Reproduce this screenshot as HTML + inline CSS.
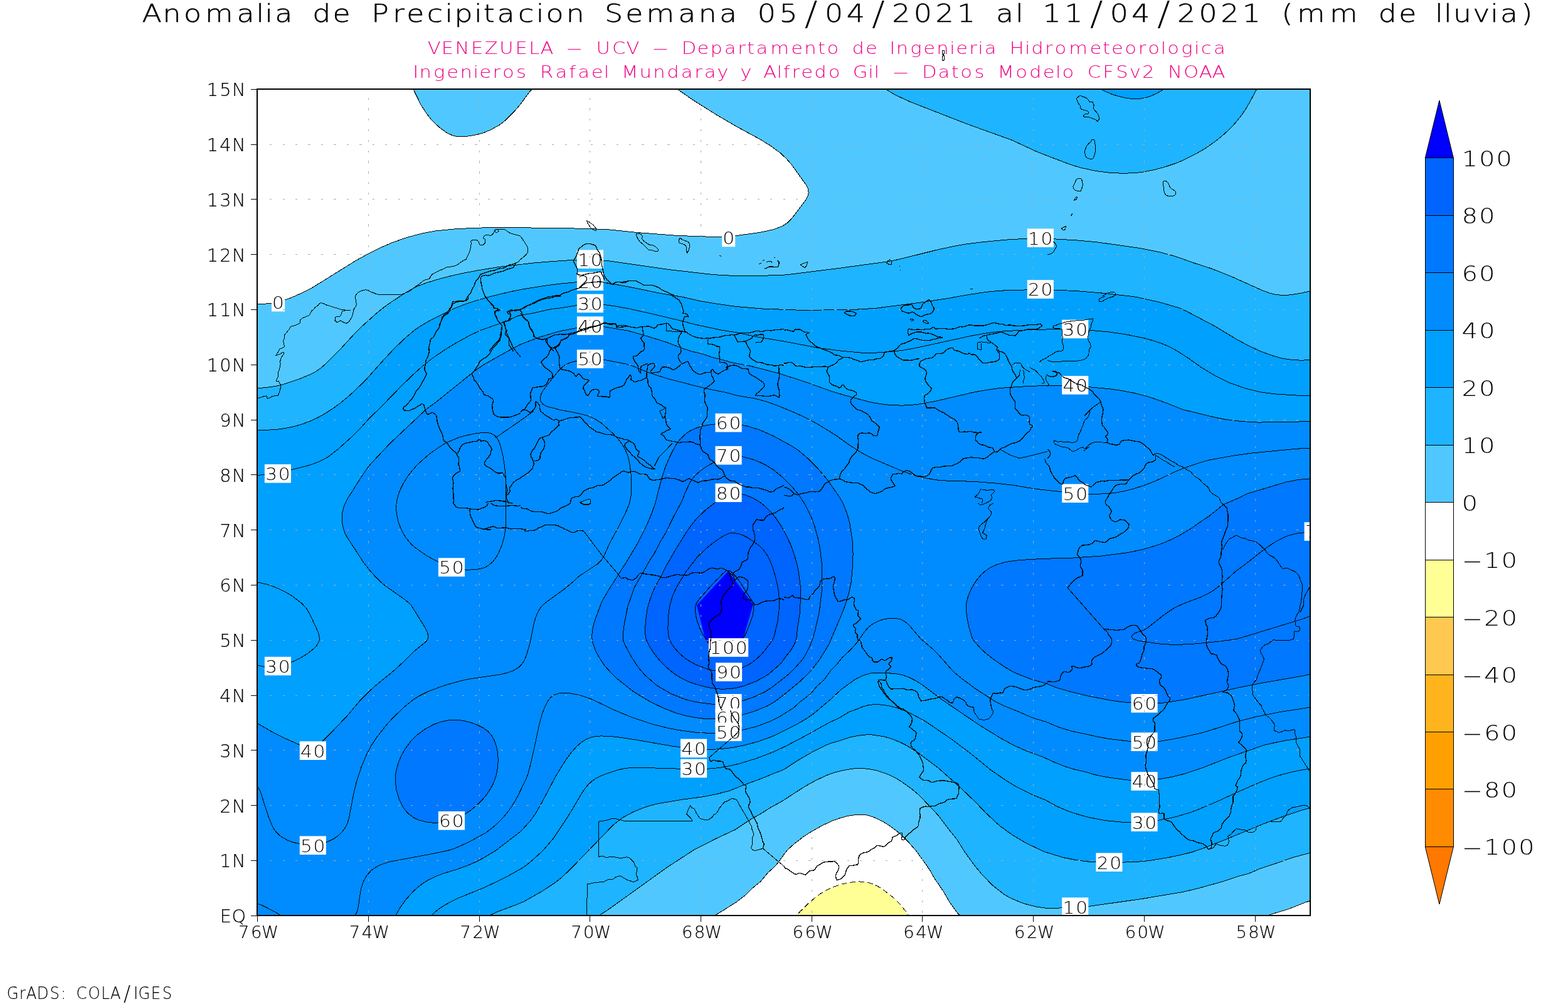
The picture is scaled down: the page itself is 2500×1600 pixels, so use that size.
<!DOCTYPE html>
<html lang="es"><head><meta charset="utf-8"><title>Anomalia de Precipitacion</title>
<style>html,body{margin:0;padding:0;background:#fff}body{width:2500px;height:1600px}svg{display:block}text{font-family:'DejaVu Sans','Liberation Sans',sans-serif;font-weight:200;white-space:pre}</style></head>
<body>
<svg width="2500" height="1600" viewBox="0 0 2500 1600">
<rect width="2500" height="1600" fill="#fff"/>
<defs><clipPath id="fr"><rect x="410.0" y="142.0" width="1679.0" height="1317.0"/></clipPath></defs>
<text xml:space="preserve" transform="translate(0,34.90) scale(1.1721,1)" font-size="39.09" stroke="#000" stroke-width="0.50"><tspan x="193.2 221.4 249.9 278.9 322.1 348.6 360.4 373.8 405.4 425.0 452.6 483.5 505.3 534.1 553.0 580.8 605.3 618.2 645.1 657.6 676.2 704.7 729.2 742.6 770.2 802.2 822.5 850.9 879.3 922.5 950.2 978.6 1010.2 1030.5 1060.0">Anomalia de Precipitacion Semana 05</tspan><tspan x="1094.5" dy="4.61" font-size="52.70" stroke="none">/</tspan><tspan x="1122.0 1151.5" dy="-4.61">04</tspan><tspan x="1186.0" dy="4.61" font-size="52.70" stroke="none">/</tspan><tspan x="1213.4 1242.9 1272.4 1301.9 1334.7 1354.8 1381.2 1398.1 1418.5 1448.0" dy="-4.61">2021 al 11</tspan><tspan x="1482.5" dy="4.61" font-size="52.70" stroke="none">/</tspan><tspan x="1509.9 1539.4" dy="-4.61">04</tspan><tspan x="1574.0" dy="4.61" font-size="52.70" stroke="none">/</tspan><tspan x="1601.4 1630.9 1660.4 1689.9 1722.7 1743.4 1764.4 1808.7 1855.4 1875.1 1902.7 1933.6 1952.1 1963.9 1976.9 2003.5 2027.3 2040.7 2069.4" dy="-4.61">2021 (mm de lluvia)</tspan></text>
<text xml:space="preserve" transform="translate(0,86.20) scale(1.1538,1)" font-size="26.47" fill="#f00082"><tspan x="590.8 610.0 628.9 650.9 669.7 690.1 711.9 730.8 746.7 768.5">VENEZUELA </tspan><tspan x="781.4" textLength="24.6" lengthAdjust="spacingAndGlyphs">-</tspan><tspan x="810.4 823.9 845.9 865.5 887.4"> UCV </tspan><tspan x="900.3" textLength="24.6" lengthAdjust="spacingAndGlyphs">-</tspan><tspan x="929.3 941.8 963.3 981.6 1000.8 1019.5 1032.2 1044.8 1064.5 1093.2 1111.4 1130.1 1142.7 1164.1 1177.4 1196.1 1217.0 1229.3 1238.3 1257.7 1276.0 1294.2 1312.4 1321.0 1339.2 1351.4 1360.5 1381.8 1395.1 1416.3 1425.1 1444.0 1457.4 1477.1 1505.8 1523.7 1535.7 1554.3 1572.9 1586.2 1604.1 1613.2 1632.3 1650.1 1659.5 1677.1"> Departamento de Ingenieria Hidrometeorologica</tspan></text>
<text xml:space="preserve" transform="translate(0,124.00) scale(1.1588,1)" font-size="26.47" fill="#f00082"><tspan x="568.0 577.0 596.4 614.7 632.9 651.1 659.6 677.8 691.2 710.3 729.5 743.0 764.1 783.0 795.0 813.5 830.9 842.4 855.2 879.7 898.6 917.6 936.9 955.5 968.9 986.6 1006.2 1018.6 1038.2 1050.3 1068.7 1077.7 1089.4 1102.2 1120.4 1139.7 1161.1 1173.5 1194.6 1202.6 1214.0">Ingenieros Rafael Mundaray y Alfredo Gil </tspan><tspan x="1226.9" textLength="24.6" lengthAdjust="spacingAndGlyphs">-</tspan><tspan x="1256.0 1268.5 1290.5 1308.9 1321.5 1340.7 1359.9 1372.6 1397.4 1416.1 1434.8 1452.3 1461.4 1482.7 1496.2 1517.3 1535.5 1554.0 1571.4 1593.6 1606.9 1628.4 1649.7 1667.7"> Datos Modelo CFSv2 NOAA</tspan></text>
<g clip-path="url(#fr)">
<path d="M655.9 136.0 L854.3 136.0 L845.0 145.4 L829.9 166.0 L819.7 178.0 L806.0 191.7 L797.0 198.7 L782.0 207.1 L770.0 212.0 L761.0 214.4 L752.0 216.1 L743.0 217.4 L734.0 217.8 L728.0 217.4 L722.0 216.1 L713.0 212.0 L701.0 203.4 L689.0 192.2 L680.1 181.0 L671.0 166.7 L656.0 136.1ZM1070.0 136.0 L2096.0 136.0 L2096.0 1433.3 L2081.4 1438.0 L2054.0 1448.8 L2000.5 1465.0 L1535.4 1465.0 L1526.0 1454.2 L1516.3 1441.0 L1510.4 1432.0 L1503.8 1420.0 L1489.4 1399.0 L1480.7 1384.0 L1461.5 1357.0 L1454.0 1347.9 L1442.0 1335.4 L1433.0 1327.1 L1424.0 1320.0 L1412.2 1312.0 L1403.0 1306.9 L1394.0 1302.7 L1385.0 1299.6 L1379.0 1298.5 L1370.0 1298.1 L1358.0 1299.3 L1349.0 1301.0 L1340.0 1303.5 L1325.0 1308.9 L1310.0 1316.0 L1292.0 1326.3 L1281.6 1333.0 L1266.0 1345.0 L1256.1 1354.0 L1251.1 1360.0 L1241.0 1374.3 L1235.3 1381.0 L1225.1 1390.0 L1212.5 1405.0 L1197.7 1417.0 L1189.0 1426.0 L1173.4 1438.0 L1151.0 1452.2 L1128.8 1465.0 L404.0 1465.0 L404.0 484.0 L422.0 484.2 L434.0 483.1 L449.0 479.7 L464.0 474.5 L482.0 466.6 L497.0 459.0 L566.0 416.1 L587.0 404.4 L605.0 395.4 L626.0 386.3 L650.0 378.0 L674.0 371.7 L695.0 367.9 L728.0 364.6 L773.0 362.8 L833.0 362.8 L929.0 364.2 L968.0 365.6 L1016.0 370.5 L1076.0 375.2 L1115.0 376.8 L1145.0 377.4 L1175.0 375.4 L1211.0 370.5 L1232.0 366.0 L1247.0 360.7 L1255.4 355.0 L1261.4 349.0 L1266.4 343.0 L1284.4 319.0 L1287.7 313.0 L1289.2 307.0 L1288.3 301.0 L1285.5 295.0 L1261.8 262.0 L1253.9 253.0 L1244.4 244.0 L1228.1 232.0 L1211.0 221.5 L1175.0 202.0 L1144.1 184.0 L1106.0 160.1 L1073.0 137.8Z" fill="#50c8ff" fill-rule="evenodd"/>
<path d="M1402.6 136.0 L2008.0 136.0 L2002.0 145.0 L1992.6 163.0 L1985.5 175.0 L1979.0 184.3 L1970.0 195.6 L1961.0 205.2 L1948.1 217.0 L1936.8 226.0 L1922.0 236.3 L1907.0 245.1 L1886.0 255.6 L1874.0 260.5 L1859.0 265.5 L1841.0 270.5 L1823.0 274.0 L1808.0 275.8 L1790.0 276.2 L1772.0 275.6 L1748.0 272.6 L1724.0 267.6 L1706.0 262.1 L1655.0 242.6 L1613.0 223.2 L1541.0 197.3 L1451.0 162.2 L1427.0 151.1 L1403.0 136.3ZM1604.8 382.0 L1628.0 380.5 L1658.0 379.6 L1715.0 382.8 L1754.0 386.5 L1817.0 395.4 L1838.0 399.3 L1868.0 406.6 L1880.0 410.4 L1907.0 420.2 L1928.0 426.7 L1964.0 440.9 L2012.0 462.5 L2021.0 465.9 L2030.0 468.6 L2042.0 470.4 L2054.0 470.2 L2072.0 467.6 L2096.0 462.4 L2096.0 1357.2 L2060.0 1366.9 L2036.0 1375.5 L2009.0 1384.3 L1988.0 1393.1 L1973.0 1396.9 L1946.0 1405.9 L1901.0 1418.1 L1880.0 1422.6 L1826.0 1431.6 L1733.0 1444.9 L1682.0 1447.4 L1670.0 1447.3 L1661.0 1446.4 L1646.0 1443.7 L1631.0 1439.4 L1619.0 1434.8 L1604.0 1427.3 L1583.0 1411.4 L1565.0 1393.0 L1548.3 1372.0 L1535.7 1354.0 L1526.0 1338.2 L1511.0 1319.6 L1499.0 1303.0 L1485.5 1288.0 L1461.9 1264.0 L1451.0 1255.3 L1437.9 1246.0 L1427.0 1239.4 L1418.0 1235.0 L1406.0 1230.4 L1394.0 1227.1 L1382.0 1225.1 L1370.0 1224.5 L1352.0 1226.1 L1331.0 1231.0 L1313.0 1237.8 L1290.8 1249.0 L1280.0 1255.4 L1247.0 1276.8 L1226.8 1288.0 L1214.0 1296.2 L1196.0 1306.3 L1172.0 1322.3 L1142.5 1336.0 L1106.0 1354.7 L1064.0 1382.0 L968.0 1450.9 L956.0 1458.5 L942.8 1465.0 L404.0 1465.0 L404.0 618.5 L413.0 618.5 L425.0 617.5 L440.0 615.3 L450.4 613.0 L479.0 603.2 L494.0 596.9 L503.0 592.4 L512.0 586.1 L522.3 577.0 L539.0 560.2 L562.0 535.0 L581.0 516.4 L605.0 495.2 L626.0 479.8 L653.0 462.5 L662.0 457.7 L671.0 453.9 L686.0 448.7 L704.0 443.5 L743.0 434.4 L791.0 426.1 L830.0 421.1 L884.0 416.3 L917.0 414.3 L935.0 414.0 L971.0 415.8 L1070.2 430.0 L1115.0 435.4 L1139.0 437.7 L1178.0 439.4 L1214.0 439.3 L1247.0 438.4 L1340.0 427.2 L1418.0 416.5 L1436.0 412.6 L1490.0 399.1 L1529.0 390.8 L1562.0 386.3 L1604.0 382.1Z" fill="#1eb4ff" fill-rule="evenodd"/>
<path d="M1743.9 136.0 L1862.0 136.0 L1856.0 141.5 L1851.0 145.0 L1844.0 149.0 L1835.0 153.1 L1823.0 156.7 L1811.0 157.6 L1796.0 156.4 L1778.0 152.1 L1763.0 146.2 L1745.0 136.6ZM903.8 451.0 L920.0 449.7 L935.0 449.4 L953.0 449.9 L965.0 450.9 L989.0 454.5 L1055.0 467.8 L1088.0 473.2 L1115.0 479.4 L1139.0 483.6 L1166.0 487.5 L1217.0 492.1 L1277.0 494.3 L1349.0 493.7 L1379.0 492.5 L1400.0 490.8 L1469.0 481.9 L1514.2 475.0 L1535.0 471.1 L1565.0 466.4 L1583.0 464.2 L1601.0 462.9 L1664.0 461.5 L1715.0 463.5 L1757.0 467.0 L1802.0 472.0 L1814.0 473.8 L1850.0 481.9 L1880.0 490.7 L1891.8 496.0 L1937.0 519.8 L1970.0 539.8 L1988.0 549.6 L2009.0 559.5 L2030.0 567.2 L2045.0 571.3 L2063.0 573.9 L2078.0 574.1 L2096.0 572.3 L2096.0 1285.9 L2072.0 1292.2 L2042.0 1302.4 L2012.0 1314.0 L1949.0 1340.0 L1904.0 1357.0 L1886.0 1361.7 L1865.9 1366.0 L1841.0 1370.2 L1823.0 1372.6 L1802.0 1374.0 L1775.0 1374.3 L1748.0 1374.0 L1730.0 1372.6 L1712.0 1370.0 L1697.0 1367.1 L1670.0 1359.2 L1658.0 1354.5 L1634.0 1342.5 L1622.0 1335.6 L1610.0 1327.9 L1595.0 1316.8 L1573.3 1297.0 L1556.0 1279.0 L1529.0 1253.1 L1502.0 1229.1 L1489.9 1219.0 L1460.0 1196.9 L1441.8 1186.0 L1418.0 1176.1 L1409.0 1173.7 L1397.0 1171.6 L1388.0 1170.8 L1379.0 1171.0 L1367.0 1172.5 L1355.0 1174.9 L1320.7 1186.0 L1304.0 1193.9 L1285.4 1204.0 L1270.0 1213.0 L1253.0 1224.4 L1247.0 1227.7 L1235.0 1232.0 L1217.0 1239.6 L1183.3 1252.0 L1163.0 1260.3 L1145.0 1264.9 L1124.0 1269.3 L1085.0 1274.6 L1049.0 1280.7 L1037.0 1283.8 L1025.0 1287.7 L1010.0 1293.7 L992.0 1303.4 L977.0 1315.5 L907.7 1387.0 L894.8 1399.0 L883.2 1408.0 L863.0 1421.1 L836.0 1436.4 L827.0 1440.4 L793.1 1453.0 L780.3 1459.0 L770.4 1465.0 L404.0 1465.0 L404.0 686.3 L440.0 684.5 L455.0 682.5 L470.0 679.3 L482.0 675.8 L497.0 670.0 L509.0 664.3 L521.0 657.4 L533.0 649.4 L545.0 640.4 L569.0 619.4 L584.5 604.0 L611.2 574.0 L628.1 556.0 L644.0 540.6 L657.3 529.0 L668.0 521.1 L683.0 512.2 L698.0 504.1 L719.0 493.8 L734.0 487.5 L752.8 481.0 L782.0 472.5 L803.0 467.3 L824.0 462.7 L854.0 457.5 L875.0 454.4 L902.0 451.2Z" fill="#00a0ff" fill-rule="evenodd"/>
<path d="M917.2 523.0 L932.0 521.4 L959.0 520.2 L980.0 523.2 L1001.0 527.0 L1031.0 535.5 L1064.0 545.8 L1091.0 556.2 L1103.0 559.9 L1121.0 564.3 L1136.0 569.6 L1148.0 572.3 L1166.0 577.5 L1196.0 583.1 L1241.0 594.8 L1277.0 606.1 L1322.0 622.3 L1343.0 628.8 L1385.0 640.2 L1409.0 644.3 L1424.0 645.8 L1436.0 646.1 L1451.0 645.5 L1466.0 643.9 L1493.0 639.0 L1553.0 625.0 L1580.0 620.3 L1598.0 618.1 L1646.0 615.1 L1694.0 614.2 L1712.0 614.3 L1772.0 620.1 L1790.0 622.8 L1808.0 626.3 L1826.0 630.8 L1841.0 635.5 L1862.0 643.1 L1886.0 652.7 L1937.0 665.1 L1952.0 668.1 L1979.0 671.5 L2006.0 673.1 L2096.0 671.6 L2096.0 1173.1 L2051.0 1179.9 L2027.0 1184.7 L2015.0 1187.6 L1959.5 1207.0 L1916.0 1224.1 L1886.0 1233.9 L1865.0 1238.9 L1838.0 1243.4 L1820.0 1244.6 L1799.0 1243.2 L1766.0 1238.8 L1745.0 1234.5 L1733.0 1230.7 L1712.0 1225.9 L1700.0 1222.2 L1682.0 1215.2 L1664.3 1207.0 L1634.0 1195.7 L1616.0 1187.7 L1595.0 1176.1 L1562.0 1155.9 L1502.0 1115.1 L1469.0 1090.4 L1460.0 1084.8 L1451.0 1080.2 L1439.0 1075.7 L1427.0 1073.4 L1400.0 1072.0 L1388.0 1073.0 L1376.0 1076.6 L1367.0 1080.8 L1361.0 1084.4 L1341.0 1099.0 L1325.0 1113.9 L1296.4 1138.0 L1287.8 1144.0 L1272.7 1153.0 L1238.0 1170.6 L1229.0 1174.5 L1208.0 1182.0 L1187.0 1187.6 L1172.0 1190.7 L1157.0 1192.8 L1142.0 1194.0 L1127.0 1194.2 L1094.0 1191.8 L1073.0 1189.3 L1013.0 1178.9 L989.0 1175.2 L974.0 1173.6 L959.0 1172.9 L950.0 1173.5 L944.0 1174.6 L935.0 1178.0 L926.9 1183.0 L920.0 1189.1 L912.0 1198.0 L902.0 1211.3 L886.1 1237.0 L865.5 1276.0 L853.6 1297.0 L844.9 1309.0 L830.0 1325.2 L791.0 1355.1 L770.0 1367.8 L755.0 1375.3 L743.0 1380.3 L728.0 1385.6 L707.0 1392.0 L696.4 1396.0 L683.6 1402.0 L674.0 1408.0 L666.1 1414.0 L659.5 1420.0 L647.0 1433.8 L637.6 1447.0 L627.7 1465.0 L404.0 1465.0 L404.0 1150.1 L413.0 1154.1 L431.0 1164.7 L449.0 1174.2 L482.0 1188.9 L488.0 1191.0 L494.0 1192.1 L497.5 1192.0 L503.0 1190.2 L512.0 1183.6 L524.0 1171.7 L554.0 1140.3 L573.5 1117.0 L591.6 1099.0 L598.3 1093.0 L627.7 1069.0 L644.0 1054.0 L662.0 1036.3 L677.4 1024.0 L680.3 1021.0 L682.0 1018.0 L682.7 1015.0 L682.5 1012.0 L680.6 1006.0 L677.6 1000.0 L656.0 965.3 L652.0 961.0 L644.7 955.0 L614.0 933.4 L607.6 928.0 L598.4 919.0 L587.8 907.0 L578.7 895.0 L553.3 856.0 L550.1 850.0 L547.9 844.0 L546.4 838.0 L545.3 829.0 L545.4 820.0 L546.3 814.0 L547.8 808.0 L550.1 802.0 L560.7 784.0 L578.1 757.0 L586.4 745.0 L596.5 733.0 L616.4 712.0 L677.0 654.3 L695.0 640.9 L759.6 589.0 L778.3 577.0 L821.0 553.2 L830.0 548.8 L858.4 538.0 L877.4 532.0 L893.0 527.8 L917.0 523.0Z" fill="#008cff" fill-rule="evenodd"/>
<path d="M1138.7 676.0 L1160.0 674.6 L1172.0 675.4 L1190.0 678.7 L1208.0 683.9 L1229.0 692.7 L1259.0 708.8 L1271.0 716.3 L1284.2 727.0 L1302.6 745.0 L1316.0 760.3 L1326.8 775.0 L1339.0 793.0 L1344.2 802.0 L1351.1 820.0 L1354.4 832.0 L1358.4 856.0 L1359.9 874.0 L1359.8 895.0 L1357.9 922.0 L1355.4 937.0 L1350.8 955.0 L1343.2 976.0 L1323.1 1024.0 L1310.0 1046.3 L1304.7 1054.0 L1292.8 1069.0 L1277.0 1084.7 L1245.2 1111.0 L1232.0 1120.4 L1217.0 1128.1 L1196.0 1135.8 L1172.0 1142.0 L1154.0 1144.9 L1139.0 1145.9 L1121.0 1145.1 L1103.0 1142.7 L1085.0 1138.6 L1073.0 1134.5 L1055.0 1127.3 L1034.0 1116.9 L1014.1 1105.0 L1004.0 1097.9 L983.0 1081.0 L965.0 1062.3 L953.6 1045.0 L948.9 1036.0 L945.0 1024.0 L943.9 1015.0 L944.7 1003.0 L947.5 991.0 L959.8 958.0 L970.4 940.0 L999.2 895.0 L1017.2 865.0 L1034.0 830.3 L1040.6 814.0 L1045.6 799.0 L1053.9 766.0 L1060.5 745.0 L1068.2 727.0 L1075.9 712.0 L1079.6 706.0 L1085.0 699.2 L1093.8 691.0 L1100.0 686.7 L1109.0 682.5 L1118.0 679.5 L1136.0 676.3ZM2086.2 763.0 L2096.0 763.2 L2096.0 1072.9 L2081.0 1076.5 L2018.0 1087.3 L1982.0 1094.5 L1886.0 1115.3 L1862.0 1119.3 L1844.0 1121.1 L1817.0 1120.7 L1784.0 1118.1 L1739.0 1110.1 L1709.0 1102.9 L1685.0 1096.1 L1667.0 1088.9 L1649.0 1084.0 L1640.4 1081.0 L1617.8 1072.0 L1607.0 1066.1 L1597.3 1060.0 L1580.4 1048.0 L1566.1 1036.0 L1557.4 1027.0 L1552.4 1021.0 L1550.0 1016.7 L1548.2 1012.0 L1544.3 997.0 L1541.4 982.0 L1540.3 973.0 L1540.4 964.0 L1542.1 955.0 L1545.1 946.0 L1549.2 937.0 L1554.5 928.0 L1564.1 916.0 L1570.7 910.0 L1574.8 907.0 L1580.0 903.9 L1589.0 899.8 L1604.0 895.4 L1616.0 893.5 L1634.0 892.0 L1664.0 890.3 L1706.0 889.3 L1754.0 886.2 L1802.0 880.0 L1820.0 876.1 L1838.0 870.9 L1853.0 865.9 L1862.0 862.2 L1886.0 850.2 L1901.1 841.0 L1916.0 830.1 L1928.0 822.3 L1949.0 805.3 L1955.1 802.0 L1973.0 794.4 L1988.0 786.9 L2048.0 768.8 L2066.0 765.2 L2084.0 763.1ZM704.1 1150.0 L713.0 1148.1 L722.0 1147.2 L737.0 1148.2 L746.0 1150.1 L755.0 1152.8 L762.8 1156.0 L770.0 1159.7 L779.0 1166.4 L783.0 1171.0 L786.8 1177.0 L789.5 1183.0 L791.4 1189.0 L793.8 1204.0 L794.1 1213.0 L793.6 1222.0 L790.7 1237.0 L788.0 1245.1 L784.9 1252.0 L776.0 1266.3 L770.5 1273.0 L764.0 1279.6 L754.6 1288.0 L746.8 1294.0 L740.0 1298.4 L731.2 1303.0 L724.0 1306.0 L716.0 1308.5 L701.0 1310.9 L692.0 1311.1 L683.0 1310.5 L674.2 1309.0 L668.0 1307.1 L662.0 1304.5 L656.0 1300.9 L651.3 1297.0 L647.0 1292.4 L641.9 1285.0 L638.7 1279.0 L635.0 1270.0 L633.2 1264.0 L631.2 1255.0 L630.2 1246.0 L630.1 1240.0 L631.1 1231.0 L634.9 1216.0 L641.4 1201.0 L646.8 1192.0 L651.1 1186.0 L656.0 1180.0 L661.9 1174.0 L674.0 1164.3 L689.0 1155.6 L695.0 1153.0 L704.0 1150.0Z" fill="#0078ff" fill-rule="evenodd"/>
<path d="M1156.3 787.0 L1163.0 785.4 L1172.0 785.3 L1181.0 786.8 L1193.0 790.4 L1202.0 794.4 L1211.0 799.8 L1220.0 806.8 L1227.4 814.0 L1237.3 826.0 L1245.3 838.0 L1250.6 847.0 L1259.3 865.0 L1264.1 877.0 L1269.7 895.0 L1273.5 913.0 L1276.5 937.0 L1276.6 958.0 L1274.6 982.0 L1271.3 1003.0 L1269.7 1018.0 L1267.8 1024.0 L1261.2 1036.0 L1253.0 1046.1 L1245.4 1057.0 L1242.5 1060.0 L1224.5 1075.0 L1211.0 1083.0 L1202.7 1087.0 L1187.0 1092.9 L1178.0 1095.4 L1166.0 1097.5 L1154.0 1098.2 L1142.0 1097.6 L1127.0 1095.1 L1109.0 1090.2 L1097.0 1085.9 L1085.0 1080.0 L1077.0 1075.0 L1064.0 1064.9 L1055.8 1057.0 L1046.0 1045.6 L1037.2 1033.0 L1032.3 1024.0 L1029.4 1015.0 L1028.5 1006.0 L1028.7 997.0 L1031.2 976.0 L1033.7 964.0 L1037.4 952.0 L1042.1 940.0 L1053.6 919.0 L1060.9 904.0 L1078.2 874.0 L1091.2 853.0 L1106.0 831.8 L1112.0 825.0 L1121.0 816.1 L1138.8 802.0 L1150.9 790.0 L1154.0 788.0Z" fill="#0064ff" fill-rule="evenodd"/>
<path d="M1160.8 910.2 L1200.8 962.9 L1184.9 1017.4 L1177.1 1031.4 L1133.5 1031.4 L1124.2 1017.4 L1110.9 964.4Z" fill="#0000ff"/>
<path d="M1367.2 1405.0 L1379.0 1405.4 L1388.0 1407.5 L1397.0 1411.0 L1407.0 1417.0 L1422.7 1429.0 L1436.0 1442.1 L1444.6 1453.0 L1452.3 1465.0 L1265.1 1465.0 L1275.3 1453.0 L1289.0 1439.5 L1301.0 1429.3 L1313.0 1421.0 L1325.0 1414.9 L1340.0 1409.5 L1352.0 1406.8 L1367.0 1405.0Z" fill="#ffff96" fill-rule="evenodd"/>
<path d="M854.3 136.0 L845.0 145.4 L829.9 166.0 L819.7 178.0 L806.0 191.7 L797.0 198.7 L782.0 207.1 L770.0 212.0 L761.0 214.4 L752.0 216.1 L743.0 217.4 L734.0 217.8 L728.0 217.4 L722.0 216.1 L713.0 212.0 L701.0 203.4 L689.0 192.2 L680.1 181.0 L671.0 166.7 L655.9 136.0M404.0 484.0 L422.0 484.2 L434.0 483.1 L449.0 479.7 L464.0 474.5 L482.0 466.6 L497.0 459.0 L566.0 416.1 L587.0 404.4 L605.0 395.4 L626.0 386.3 L650.0 378.0 L674.0 371.7 L695.0 367.9 L728.0 364.6 L773.0 362.8 L833.0 362.8 L929.0 364.2 L968.0 365.6 L1016.0 370.5 L1076.0 375.2 L1115.0 376.8 L1145.0 377.4 L1175.0 375.4 L1211.0 370.5 L1232.0 366.0 L1247.0 360.7 L1255.4 355.0 L1261.4 349.0 L1266.4 343.0 L1284.4 319.0 L1287.7 313.0 L1289.2 307.0 L1288.3 301.0 L1285.5 295.0 L1261.8 262.0 L1253.9 253.0 L1244.4 244.0 L1228.1 232.0 L1211.0 221.5 L1175.0 202.0 L1144.1 184.0 L1106.0 160.1 L1082.0 143.5 L1070.0 136.0M2096.0 1433.3 L2081.4 1438.0 L2054.0 1448.8 L2000.5 1465.0M1535.4 1465.0 L1526.0 1454.2 L1514.2 1438.0 L1503.8 1420.0 L1489.4 1399.0 L1482.7 1387.0 L1478.0 1380.0 L1460.0 1355.1 L1448.0 1341.5 L1439.0 1332.4 L1430.0 1324.6 L1418.0 1315.7 L1409.0 1310.1 L1397.0 1304.0 L1388.0 1300.5 L1382.0 1298.9 L1373.0 1298.1 L1364.0 1298.5 L1352.0 1300.3 L1340.0 1303.5 L1328.0 1307.7 L1310.0 1316.0 L1292.0 1326.3 L1281.6 1333.0 L1266.0 1345.0 L1256.1 1354.0 L1251.1 1360.0 L1241.0 1374.3 L1235.3 1381.0 L1225.1 1390.0 L1212.5 1405.0 L1197.7 1417.0 L1189.0 1426.0 L1173.4 1438.0 L1151.0 1452.2 L1128.8 1465.0M2008.0 136.0 L2002.0 145.0 L1992.6 163.0 L1985.5 175.0 L1979.0 184.3 L1970.0 195.6 L1961.0 205.2 L1948.1 217.0 L1936.8 226.0 L1922.0 236.3 L1907.0 245.1 L1886.0 255.6 L1874.0 260.5 L1859.0 265.5 L1841.0 270.5 L1823.0 274.0 L1808.0 275.8 L1790.0 276.2 L1772.0 275.6 L1748.0 272.6 L1724.0 267.6 L1706.0 262.1 L1655.0 242.6 L1613.0 223.2 L1541.0 197.3 L1451.0 162.2 L1427.0 151.1 L1402.6 136.0M404.0 618.5 L413.0 618.5 L425.0 617.5 L440.0 615.3 L450.4 613.0 L479.0 603.2 L494.0 596.9 L503.7 592.0 L512.1 586.0 L522.3 577.0 L539.0 560.2 L567.9 529.0 L580.4 517.0 L600.5 499.0 L611.6 490.0 L626.0 479.8 L652.3 463.0 L665.0 456.3 L680.0 450.7 L698.6 445.0 L719.0 439.6 L740.0 435.0 L764.0 430.5 L797.0 425.2 L851.0 419.0 L881.0 416.5 L914.0 414.4 L932.0 413.9 L950.0 414.4 L971.0 415.8 L1070.2 430.0 L1136.0 437.5 L1157.0 438.9 L1178.0 439.4 L1214.0 439.3 L1244.0 438.5 L1256.0 437.6 L1337.0 427.5 L1418.0 416.5 L1436.0 412.6 L1493.0 398.4 L1526.0 391.3 L1538.0 389.3 L1565.0 385.9 L1604.0 382.1 L1643.0 379.9 L1661.0 379.6 L1721.0 383.2 L1751.0 386.1 L1817.0 395.4 L1850.0 402.0 L1874.0 408.5 L1904.0 419.2 L1931.0 427.8 L1964.0 440.9 L2012.0 462.5 L2024.0 466.9 L2033.0 469.3 L2045.0 470.5 L2057.0 469.9 L2072.0 467.6 L2096.0 462.4M2096.0 1357.2 L2060.0 1366.9 L2036.0 1375.5 L2009.0 1384.3 L1991.0 1392.1 L1973.0 1396.9 L1949.0 1405.0 L1910.0 1415.8 L1886.0 1421.5 L1823.0 1432.1 L1733.0 1444.9 L1679.0 1447.5 L1667.0 1447.1 L1652.0 1445.0 L1640.0 1442.1 L1628.0 1438.4 L1610.0 1430.6 L1601.0 1425.4 L1582.5 1411.0 L1565.0 1393.0 L1553.0 1378.2 L1537.7 1357.0 L1526.0 1338.2 L1511.0 1319.6 L1496.5 1300.0 L1466.0 1267.8 L1454.0 1257.6 L1439.0 1246.8 L1430.0 1241.1 L1421.0 1236.3 L1409.0 1231.5 L1397.0 1227.8 L1385.0 1225.4 L1373.0 1224.5 L1361.0 1225.0 L1346.0 1227.3 L1331.0 1231.0 L1319.0 1235.2 L1301.0 1243.5 L1283.0 1253.5 L1247.0 1276.8 L1226.8 1288.0 L1214.0 1296.2 L1196.0 1306.3 L1172.0 1322.3 L1142.5 1336.0 L1107.1 1354.0 L1064.0 1382.0 L968.0 1450.9 L956.0 1458.5 L942.8 1465.0M1862.0 136.0 L1856.0 141.5 L1851.0 145.0 L1844.0 149.0 L1835.0 153.1 L1823.0 156.7 L1811.0 157.6 L1802.0 157.1 L1793.0 155.8 L1775.0 151.1 L1760.6 145.0 L1743.9 136.0M404.0 686.3 L440.0 684.5 L455.0 682.5 L467.0 680.0 L479.0 676.8 L494.0 671.2 L506.0 665.8 L518.0 659.2 L530.0 651.5 L542.0 642.8 L554.0 633.0 L566.2 622.0 L584.0 604.5 L611.2 574.0 L628.1 556.0 L644.0 540.6 L659.0 527.6 L668.0 521.1 L685.1 511.0 L720.8 493.0 L740.0 485.3 L761.0 478.5 L785.0 471.7 L815.0 464.5 L833.0 461.0 L869.0 455.2 L896.0 451.8 L917.0 449.9 L932.0 449.4 L950.0 449.7 L962.0 450.5 L977.0 452.5 L998.0 456.2 L1058.0 468.4 L1088.0 473.2 L1115.0 479.4 L1139.0 483.6 L1172.0 488.3 L1217.0 492.1 L1274.0 494.2 L1346.0 493.8 L1373.0 492.8 L1397.0 491.1 L1469.0 481.9 L1514.2 475.0 L1535.0 471.1 L1565.0 466.4 L1583.0 464.2 L1601.0 462.9 L1652.0 461.5 L1667.0 461.6 L1715.0 463.5 L1760.0 467.3 L1802.0 472.0 L1814.0 473.8 L1850.0 481.9 L1880.0 490.7 L1891.8 496.0 L1937.0 519.8 L1970.0 539.8 L1988.0 549.6 L2009.0 559.5 L2030.0 567.2 L2045.0 571.3 L2063.0 573.9 L2078.0 574.1 L2096.0 572.3M2096.0 1285.9 L2075.0 1291.3 L2048.0 1300.3 L2015.0 1312.7 L1951.4 1339.0 L1919.0 1351.6 L1901.0 1357.9 L1880.0 1363.1 L1862.0 1366.7 L1838.0 1370.7 L1823.0 1372.6 L1805.0 1373.8 L1778.0 1374.3 L1748.0 1374.0 L1733.0 1372.9 L1715.0 1370.5 L1694.0 1366.3 L1664.0 1357.0 L1634.0 1342.5 L1613.0 1329.9 L1595.0 1316.8 L1589.0 1311.7 L1571.0 1294.8 L1556.0 1279.0 L1529.0 1253.1 L1496.0 1223.9 L1463.0 1199.0 L1445.0 1187.8 L1436.0 1183.3 L1424.0 1178.3 L1410.3 1174.0 L1391.0 1171.0 L1382.0 1170.8 L1373.0 1171.6 L1355.0 1174.9 L1337.0 1181.0 L1325.0 1184.4 L1319.0 1186.7 L1301.8 1195.0 L1285.4 1204.0 L1270.0 1213.0 L1253.0 1224.4 L1247.0 1227.7 L1235.0 1232.0 L1217.0 1239.6 L1183.3 1252.0 L1163.0 1260.3 L1145.0 1264.9 L1124.0 1269.3 L1085.0 1274.6 L1049.0 1280.7 L1037.0 1283.8 L1025.0 1287.7 L1010.0 1293.7 L992.0 1303.4 L977.0 1315.5 L907.7 1387.0 L894.8 1399.0 L883.2 1408.0 L863.0 1421.1 L836.0 1436.4 L827.0 1440.4 L793.1 1453.0 L780.3 1459.0 L770.4 1465.0M404.0 760.2 L414.7 757.0 L446.0 753.1 L488.0 742.8 L500.0 739.0 L509.0 735.5 L518.0 731.1 L524.0 727.5 L539.0 715.8 L563.0 694.2 L575.0 682.1 L588.4 667.0 L607.0 649.0 L641.0 614.1 L659.0 596.7 L674.0 583.2 L689.0 571.2 L707.0 558.9 L725.0 547.9 L749.0 534.5 L767.0 526.1 L803.0 513.5 L824.0 504.2 L830.0 502.2 L848.0 499.5 L878.0 492.7 L896.0 490.5 L920.0 486.6 L932.0 485.3 L944.0 484.8 L956.0 485.0 L968.0 486.1 L983.0 488.3 L1001.0 491.6 L1040.0 500.3 L1088.0 511.7 L1106.0 516.6 L1151.0 526.3 L1175.0 530.0 L1205.0 536.5 L1250.1 544.0 L1304.0 554.3 L1343.0 559.4 L1376.0 562.4 L1388.0 562.5 L1409.0 561.5 L1439.0 558.4 L1463.0 553.9 L1550.0 534.9 L1574.0 530.6 L1595.0 528.2 L1643.0 525.4 L1700.0 524.5 L1730.0 525.6 L1769.0 529.1 L1796.0 533.1 L1823.0 538.6 L1841.0 543.5 L1856.0 548.9 L1868.0 554.3 L1877.0 559.4 L1895.0 571.0 L1916.0 586.0 L1940.0 600.2 L1960.4 610.0 L1985.6 619.0 L2009.0 624.8 L2033.0 627.9 L2072.0 630.3 L2087.0 630.4 L2096.0 629.9M404.0 1057.1 L413.0 1060.9 L419.0 1062.0 L428.0 1062.6 L437.0 1062.2 L446.0 1060.9 L461.0 1056.6 L470.0 1053.0 L480.0 1048.0 L489.7 1042.0 L497.0 1036.5 L503.0 1031.0 L506.2 1027.0 L509.0 1021.1 L509.4 1018.0 L508.6 1012.0 L506.6 1006.0 L494.2 979.0 L488.7 970.0 L480.6 961.0 L464.0 948.6 L455.0 943.5 L443.0 937.7 L434.0 934.0 L425.0 931.0 L404.0 926.4M2096.0 1224.0 L2078.0 1226.6 L2063.0 1229.6 L2045.0 1233.9 L2027.0 1239.6 L2009.0 1246.6 L1970.0 1263.6 L1946.0 1274.9 L1910.0 1290.2 L1898.0 1294.7 L1871.0 1302.7 L1844.0 1307.8 L1817.0 1310.5 L1805.0 1310.8 L1790.0 1310.3 L1763.0 1307.7 L1736.0 1302.6 L1721.0 1298.5 L1703.0 1292.6 L1685.0 1284.9 L1667.0 1275.0 L1646.0 1266.6 L1619.0 1253.0 L1604.0 1243.8 L1580.0 1227.3 L1547.0 1200.3 L1517.0 1177.9 L1475.0 1149.2 L1451.0 1136.4 L1442.0 1132.4 L1430.0 1128.1 L1415.0 1124.3 L1400.0 1122.6 L1394.0 1122.7 L1385.0 1123.6 L1376.0 1126.0 L1367.0 1129.8 L1355.0 1134.0 L1337.0 1144.6 L1322.0 1151.5 L1286.0 1171.6 L1256.0 1187.4 L1235.0 1197.5 L1205.0 1209.0 L1178.0 1217.2 L1163.0 1220.7 L1151.0 1222.9 L1139.0 1224.4 L1124.0 1225.4 L1097.0 1225.6 L1019.0 1223.2 L1004.0 1223.6 L993.7 1225.0 L983.0 1227.6 L965.0 1233.7 L956.0 1237.4 L950.0 1240.5 L944.0 1244.7 L938.0 1250.3 L933.9 1255.0 L927.6 1264.0 L915.4 1285.0 L902.4 1306.0 L882.3 1336.0 L866.0 1355.2 L848.0 1371.6 L839.0 1379.0 L833.0 1383.2 L806.0 1398.2 L773.1 1414.0 L728.9 1432.0 L711.5 1441.0 L701.8 1447.0 L695.0 1452.3 L689.0 1458.1 L683.4 1465.0M404.0 1150.1 L413.0 1154.1 L431.0 1164.7 L449.0 1174.2 L482.0 1188.9 L488.0 1191.0 L494.0 1192.1 L497.5 1192.0 L503.0 1190.2 L512.0 1183.6 L524.0 1171.7 L554.0 1140.3 L573.5 1117.0 L591.6 1099.0 L598.3 1093.0 L627.7 1069.0 L644.0 1054.0 L662.0 1036.3 L677.4 1024.0 L680.3 1021.0 L682.0 1018.0 L682.7 1015.0 L682.5 1012.0 L680.6 1006.0 L677.6 1000.0 L656.0 965.3 L652.0 961.0 L644.7 955.0 L614.0 933.4 L607.6 928.0 L598.4 919.0 L587.8 907.0 L578.7 895.0 L553.3 856.0 L550.1 850.0 L547.9 844.0 L545.5 832.0 L545.3 823.0 L545.8 817.0 L548.9 805.0 L555.2 793.0 L576.1 760.0 L584.2 748.0 L591.2 739.0 L622.4 706.0 L679.8 652.0 L695.0 640.9 L759.6 589.0 L773.1 580.0 L818.0 554.9 L830.0 548.8 L860.0 537.4 L884.0 530.1 L896.0 527.1 L920.0 522.5 L953.0 520.2 L962.0 520.5 L1001.0 527.0 L1031.0 535.5 L1064.0 545.8 L1091.0 556.2 L1103.0 559.9 L1121.0 564.3 L1136.0 569.6 L1148.0 572.3 L1166.0 577.5 L1196.0 583.1 L1241.0 594.8 L1283.0 608.2 L1325.0 623.3 L1346.0 629.7 L1385.0 640.2 L1397.0 642.6 L1412.0 644.7 L1424.0 645.8 L1439.0 646.1 L1454.0 645.2 L1469.0 643.5 L1493.0 639.0 L1552.8 625.0 L1577.0 620.8 L1595.0 618.4 L1643.0 615.2 L1694.0 614.2 L1712.0 614.3 L1772.0 620.1 L1790.0 622.8 L1808.0 626.3 L1826.0 630.8 L1841.0 635.5 L1862.0 643.1 L1886.0 652.7 L1937.0 665.1 L1952.0 668.1 L1979.0 671.5 L2006.0 673.1 L2096.0 671.6M2096.0 1173.1 L2051.0 1179.9 L2027.0 1184.7 L2015.0 1187.6 L1959.5 1207.0 L1916.0 1224.1 L1886.0 1233.9 L1865.0 1238.9 L1838.0 1243.4 L1820.0 1244.6 L1799.0 1243.2 L1766.0 1238.8 L1745.0 1234.5 L1733.0 1230.7 L1712.0 1225.9 L1700.0 1222.2 L1682.0 1215.2 L1664.3 1207.0 L1634.0 1195.7 L1616.0 1187.7 L1595.0 1176.1 L1562.0 1155.9 L1502.0 1115.1 L1469.0 1090.4 L1460.0 1084.8 L1451.0 1080.2 L1439.0 1075.7 L1427.0 1073.4 L1400.0 1072.0 L1388.0 1073.0 L1376.0 1076.6 L1367.0 1080.8 L1361.0 1084.4 L1341.0 1099.0 L1325.0 1113.9 L1296.4 1138.0 L1287.8 1144.0 L1272.7 1153.0 L1238.0 1170.6 L1229.0 1174.5 L1208.0 1182.0 L1187.0 1187.6 L1172.0 1190.7 L1157.0 1192.8 L1142.0 1194.0 L1127.0 1194.2 L1094.0 1191.8 L1073.0 1189.3 L1013.0 1178.9 L989.0 1175.2 L974.0 1173.6 L959.0 1172.9 L950.0 1173.5 L944.0 1174.6 L935.0 1178.0 L926.9 1183.0 L920.0 1189.1 L912.0 1198.0 L902.0 1211.3 L886.1 1237.0 L865.5 1276.0 L853.6 1297.0 L844.9 1309.0 L830.0 1325.2 L791.0 1355.1 L770.0 1367.8 L755.0 1375.3 L743.0 1380.3 L728.0 1385.6 L707.0 1392.0 L696.4 1396.0 L683.6 1402.0 L674.0 1408.0 L666.1 1414.0 L659.5 1420.0 L647.0 1433.8 L637.6 1447.0 L627.7 1465.0M756.8 691.0 L773.0 689.1 L779.0 689.6 L783.6 691.0 L788.0 693.5 L791.6 697.0 L795.3 703.0 L797.0 707.5 L802.0 727.0 L804.7 745.0 L806.3 760.0 L806.9 781.0 L806.4 838.0 L804.5 853.0 L800.5 868.0 L794.0 883.1 L790.5 889.0 L785.8 895.0 L779.0 901.1 L773.7 904.0 L770.0 905.4 L758.0 907.9 L743.0 908.1 L734.0 907.0 L722.0 904.2 L710.0 900.3 L698.0 895.2 L680.0 885.5 L662.0 872.6 L656.4 868.0 L646.4 856.0 L641.4 847.0 L637.3 838.0 L635.0 831.3 L633.1 823.0 L631.9 814.0 L631.8 805.0 L633.1 796.0 L635.6 787.0 L639.2 778.0 L643.8 769.0 L649.5 760.0 L656.3 751.0 L664.1 742.0 L671.0 735.4 L683.0 725.0 L692.0 718.2 L704.0 710.1 L713.0 704.9 L731.0 697.4 L743.0 694.0 L756.8 691.0M2096.0 1126.0 L2042.0 1134.5 L2003.0 1142.1 L1973.0 1149.9 L1928.0 1164.4 L1913.0 1168.6 L1880.0 1176.0 L1853.0 1180.8 L1844.0 1181.8 L1832.0 1182.4 L1805.0 1181.9 L1769.0 1177.5 L1748.0 1173.8 L1733.0 1170.2 L1709.0 1165.3 L1688.5 1159.0 L1667.0 1150.1 L1646.0 1143.8 L1625.0 1134.6 L1601.0 1124.9 L1586.0 1117.4 L1556.0 1098.1 L1532.9 1081.0 L1523.0 1072.8 L1516.2 1066.0 L1495.1 1042.0 L1487.0 1034.2 L1468.0 1018.0 L1451.0 998.0 L1445.0 992.3 L1439.0 988.3 L1436.0 987.0 L1430.0 985.5 L1421.0 985.2 L1412.0 986.2 L1406.0 987.8 L1397.0 991.3 L1391.0 994.6 L1385.0 999.1 L1379.0 1005.9 L1366.3 1024.0 L1355.7 1036.0 L1343.0 1047.6 L1334.0 1059.0 L1325.0 1068.0 L1313.4 1084.0 L1303.0 1093.0 L1292.0 1106.2 L1277.4 1117.0 L1265.0 1128.2 L1244.0 1141.3 L1229.0 1149.1 L1208.0 1157.1 L1187.0 1162.7 L1172.0 1165.7 L1160.0 1167.4 L1136.0 1168.7 L1106.0 1166.9 L1079.0 1163.1 L1061.0 1159.4 L1036.6 1153.0 L1009.6 1144.0 L980.4 1132.0 L944.0 1114.5 L926.0 1108.4 L911.0 1105.1 L899.0 1104.1 L890.0 1105.1 L882.6 1108.0 L878.0 1111.5 L873.6 1117.0 L869.0 1125.7 L864.3 1138.0 L859.4 1156.0 L851.2 1195.0 L844.9 1222.0 L842.0 1232.8 L839.4 1240.0 L826.4 1267.0 L819.7 1279.0 L811.9 1291.0 L802.2 1303.0 L790.2 1315.0 L774.8 1327.0 L752.0 1339.5 L737.0 1346.8 L725.0 1352.0 L716.0 1354.9 L695.0 1359.5 L620.0 1373.6 L606.7 1378.0 L596.0 1384.0 L592.2 1387.0 L586.5 1393.0 L582.4 1399.0 L579.3 1405.0 L575.4 1417.0 L571.4 1444.0 L569.3 1453.0 L566.1 1459.0 L560.2 1465.0M404.0 1247.0 L407.0 1249.0 L409.9 1252.0 L415.0 1261.0 L428.0 1301.4 L434.0 1316.3 L437.0 1321.6 L440.0 1325.5 L444.4 1330.0 L449.0 1333.7 L458.0 1338.9 L467.0 1342.2 L482.0 1345.6 L494.0 1346.7 L503.0 1346.3 L515.0 1343.9 L524.0 1340.8 L533.0 1336.2 L539.0 1331.9 L545.0 1326.2 L551.0 1318.3 L554.0 1312.3 L557.0 1300.8 L564.0 1264.0 L568.4 1246.0 L576.2 1222.0 L585.1 1201.0 L593.3 1186.0 L601.4 1174.0 L615.6 1156.0 L626.0 1144.4 L644.0 1127.1 L659.0 1114.9 L668.0 1109.2 L683.0 1101.7 L710.0 1091.8 L737.0 1084.4 L752.0 1081.5 L796.9 1075.0 L806.0 1072.9 L818.0 1068.9 L827.0 1063.6 L833.2 1057.0 L836.6 1051.0 L839.1 1045.0 L845.0 1024.9 L851.3 994.0 L853.7 985.0 L857.3 976.0 L862.9 967.0 L869.0 961.0 L899.0 939.3 L914.0 926.8 L923.0 918.4 L953.0 898.6 L959.4 892.0 L963.0 886.0 L972.4 865.0 L986.0 840.3 L998.8 814.0 L1003.7 802.0 L1006.0 790.0 L1006.8 778.0 L1006.4 760.0 L1004.4 742.0 L1002.7 733.0 L1000.0 724.0 L996.1 715.0 L992.0 708.1 L986.0 700.3 L977.0 690.5 L959.0 674.4 L947.0 666.8 L935.0 661.9 L923.0 658.9 L893.0 653.2 L872.0 647.7 L866.0 644.5 L862.2 640.0 L861.3 637.0 L861.2 634.0 L862.8 628.0 L866.1 622.0 L872.8 613.0 L889.6 592.0 L895.3 586.0 L899.0 583.0 L903.9 580.0 L911.0 577.3 L923.0 574.5 L932.0 573.2 L941.0 572.4 L950.0 572.4 L965.0 573.6 L998.0 580.0 L1008.0 583.0 L1034.0 593.7 L1064.0 603.4 L1124.0 618.8 L1157.0 625.4 L1175.0 630.3 L1205.0 635.4 L1223.0 640.3 L1238.8 646.0 L1262.0 655.5 L1280.0 663.4 L1293.3 670.0 L1308.9 679.0 L1333.0 694.0 L1355.0 709.7 L1373.0 721.2 L1391.0 730.6 L1436.0 749.7 L1451.0 755.2 L1472.0 761.1 L1493.0 764.9 L1508.0 766.0 L1553.0 767.4 L1586.0 769.9 L1616.0 773.2 L1640.0 777.5 L1661.0 780.4 L1715.0 786.1 L1742.0 787.4 L1766.0 786.7 L1778.0 785.3 L1793.0 782.6 L1805.0 779.6 L1823.0 774.0 L1844.0 765.7 L1874.0 751.6 L1886.0 746.6 L1913.0 737.3 L1928.6 733.0 L1964.0 726.6 L1994.0 722.2 L2069.0 715.1 L2096.0 714.1M455.6 1465.0 L440.0 1454.0 L419.0 1443.2 L410.0 1439.8 L404.0 1439.8M1138.7 676.0 L1160.0 674.6 L1172.0 675.4 L1191.4 679.0 L1211.0 685.0 L1232.0 694.2 L1262.0 710.5 L1274.0 718.5 L1287.5 730.0 L1304.0 746.5 L1318.1 763.0 L1337.0 790.0 L1344.2 802.0 L1351.1 820.0 L1355.0 835.0 L1359.1 862.0 L1360.1 883.0 L1358.9 910.0 L1357.1 928.0 L1353.3 946.0 L1347.7 964.0 L1342.0 979.0 L1321.6 1027.0 L1307.0 1050.9 L1292.8 1069.0 L1277.0 1084.7 L1249.0 1108.0 L1235.0 1118.5 L1223.0 1125.3 L1202.0 1133.8 L1178.0 1140.6 L1157.0 1144.6 L1139.0 1145.9 L1124.0 1145.4 L1109.0 1143.7 L1094.0 1140.9 L1079.0 1136.7 L1058.0 1128.6 L1037.0 1118.5 L1010.0 1102.3 L983.0 1081.0 L968.4 1066.0 L963.3 1060.0 L953.6 1045.0 L948.9 1036.0 L945.0 1024.0 L944.0 1018.0 L943.8 1012.0 L944.7 1003.0 L947.5 991.0 L959.8 958.0 L970.4 940.0 L999.2 895.0 L1017.2 865.0 L1033.3 832.0 L1039.5 817.0 L1045.6 799.0 L1053.9 766.0 L1060.5 745.0 L1068.2 727.0 L1075.9 712.0 L1079.6 706.0 L1085.0 699.2 L1093.8 691.0 L1100.0 686.7 L1109.0 682.5 L1118.0 679.5 L1127.0 677.6 L1138.7 676.0M2096.0 1072.9 L2078.0 1077.0 L2015.0 1087.9 L1973.0 1096.3 L1892.0 1114.2 L1859.0 1119.7 L1841.0 1121.2 L1817.0 1120.7 L1790.0 1118.8 L1769.0 1115.8 L1733.0 1108.8 L1705.5 1102.0 L1685.0 1096.1 L1667.0 1088.9 L1646.0 1083.1 L1624.8 1075.0 L1616.0 1071.1 L1601.9 1063.0 L1584.4 1051.0 L1571.0 1040.4 L1563.1 1033.0 L1552.4 1021.0 L1549.3 1015.0 L1545.1 1000.0 L1541.4 982.0 L1540.2 970.0 L1541.0 959.7 L1544.0 949.0 L1549.2 937.0 L1556.0 925.9 L1564.1 916.0 L1570.7 910.0 L1579.8 904.0 L1589.0 899.8 L1604.0 895.4 L1625.0 892.6 L1664.0 890.3 L1706.0 889.3 L1754.0 886.2 L1799.0 880.5 L1823.0 875.3 L1841.0 870.0 L1855.4 865.0 L1868.0 859.5 L1880.0 853.5 L1901.0 841.0 L1916.0 830.1 L1927.1 823.0 L1949.0 805.3 L1955.1 802.0 L1973.0 794.4 L1988.0 786.9 L2051.0 768.1 L2066.0 765.2 L2078.0 763.6 L2087.0 763.0 L2096.0 763.2M704.1 1150.0 L713.0 1148.1 L722.0 1147.2 L731.0 1147.5 L740.0 1148.8 L752.0 1151.8 L761.0 1155.2 L770.0 1159.7 L777.4 1165.0 L782.0 1169.8 L785.0 1174.0 L788.3 1180.0 L791.4 1189.0 L793.2 1198.0 L794.0 1207.0 L794.0 1216.0 L793.2 1225.0 L791.0 1235.8 L788.0 1245.1 L784.9 1252.0 L779.0 1262.0 L773.1 1270.0 L767.0 1276.7 L758.0 1285.1 L749.0 1292.4 L742.3 1297.0 L734.0 1301.7 L725.0 1305.6 L716.0 1308.5 L707.0 1310.2 L698.0 1311.0 L689.0 1311.0 L680.0 1310.1 L668.0 1307.1 L659.0 1302.8 L650.0 1295.7 L645.9 1291.0 L641.9 1285.0 L636.1 1273.0 L631.8 1258.0 L630.1 1243.0 L631.1 1231.0 L634.9 1216.0 L639.9 1204.0 L646.8 1192.0 L656.0 1180.0 L665.3 1171.0 L677.5 1162.0 L692.0 1154.2 L704.1 1150.0M1155.3 727.0 L1163.0 725.8 L1169.0 725.8 L1184.0 727.8 L1202.0 732.7 L1211.0 736.3 L1220.0 740.7 L1232.2 748.0 L1247.1 760.0 L1262.0 774.9 L1274.0 789.2 L1282.4 802.0 L1293.1 823.0 L1298.6 838.0 L1303.7 856.0 L1307.4 874.0 L1310.2 898.0 L1311.0 913.0 L1310.9 937.0 L1306.1 976.0 L1299.3 1006.0 L1295.7 1018.0 L1291.0 1030.0 L1283.7 1045.0 L1277.0 1053.9 L1266.1 1066.0 L1256.0 1075.7 L1232.0 1094.5 L1220.0 1102.3 L1205.0 1109.5 L1187.0 1115.9 L1169.0 1120.1 L1154.0 1122.0 L1136.0 1122.2 L1115.0 1119.7 L1100.0 1116.6 L1091.0 1114.0 L1070.0 1105.6 L1052.0 1095.3 L1044.3 1090.0 L1027.4 1075.0 L1019.6 1066.0 L1013.3 1057.0 L1005.7 1045.0 L996.1 1027.0 L993.8 1021.0 L993.1 1012.0 L995.4 994.0 L1000.7 967.0 L1011.1 937.0 L1036.6 892.0 L1043.0 882.5 L1053.6 862.0 L1061.0 849.9 L1074.2 823.0 L1087.1 799.0 L1092.9 784.0 L1100.1 769.0 L1104.1 763.0 L1109.0 757.1 L1118.0 749.2 L1127.0 743.2 L1139.7 736.0 L1148.0 730.1 L1155.3 727.0M2096.0 977.7 L2087.0 982.6 L2075.0 987.0 L1979.0 1016.3 L1970.0 1018.7 L1964.0 1019.6 L1922.0 1024.5 L1904.0 1026.0 L1883.0 1027.2 L1865.0 1027.1 L1847.0 1025.9 L1814.9 1021.0 L1806.0 1018.0 L1804.3 1015.0 L1805.5 1012.0 L1809.6 1009.0 L1823.0 1004.4 L1829.0 1001.0 L1857.0 979.0 L1871.0 969.6 L1886.0 962.3 L1916.0 951.1 L1925.0 946.7 L1934.0 941.4 L1946.0 932.2 L1970.8 910.0 L1985.0 899.6 L2015.0 876.0 L2027.0 867.6 L2036.0 862.0 L2047.7 856.0 L2054.0 853.5 L2069.0 849.7 L2078.0 848.9 L2084.0 849.1 L2090.0 850.1 L2096.0 851.8M1156.3 787.0 L1160.0 785.9 L1166.0 785.2 L1175.0 785.6 L1187.0 788.4 L1199.0 792.9 L1209.8 799.0 L1220.0 806.8 L1229.0 815.7 L1237.3 826.0 L1245.3 838.0 L1250.6 847.0 L1260.7 868.0 L1265.1 880.0 L1270.6 898.0 L1273.0 910.0 L1276.3 934.0 L1276.8 949.0 L1275.0 979.0 L1271.3 1003.0 L1270.2 1015.0 L1268.9 1021.0 L1266.4 1027.0 L1261.2 1036.0 L1253.0 1046.1 L1245.4 1057.0 L1226.0 1074.0 L1219.7 1078.0 L1205.0 1086.0 L1187.0 1092.9 L1178.0 1095.4 L1166.0 1097.5 L1154.0 1098.2 L1145.0 1097.9 L1133.0 1096.3 L1121.0 1093.6 L1106.0 1089.3 L1097.0 1085.9 L1088.0 1081.6 L1079.0 1076.4 L1073.0 1072.1 L1061.9 1063.0 L1053.1 1054.0 L1045.5 1045.0 L1037.2 1033.0 L1032.3 1024.0 L1030.1 1018.0 L1029.0 1012.0 L1028.5 1003.0 L1029.6 988.0 L1032.2 970.0 L1035.5 958.0 L1039.6 946.0 L1045.1 934.0 L1053.6 919.0 L1060.9 904.0 L1078.2 874.0 L1094.0 848.6 L1103.0 835.7 L1109.0 828.2 L1124.0 813.4 L1139.0 801.8 L1151.0 789.9 L1156.3 787.0M1162.8 850.0 L1169.0 849.4 L1178.0 850.7 L1184.0 852.8 L1193.0 857.3 L1211.0 869.9 L1217.0 876.1 L1223.0 884.5 L1227.2 892.0 L1231.9 904.0 L1236.4 919.0 L1239.3 931.0 L1241.0 940.8 L1242.1 952.0 L1242.4 961.0 L1242.0 973.0 L1239.7 991.0 L1234.0 1015.0 L1232.7 1018.0 L1228.8 1024.0 L1220.0 1036.0 L1214.0 1042.9 L1205.2 1051.0 L1199.0 1055.8 L1192.2 1060.0 L1184.0 1063.9 L1175.0 1067.0 L1166.0 1069.0 L1157.0 1069.9 L1148.0 1069.8 L1139.0 1068.8 L1130.0 1066.9 L1109.0 1059.1 L1094.0 1050.3 L1088.0 1045.6 L1082.0 1039.9 L1075.8 1033.0 L1071.5 1027.0 L1067.0 1018.0 L1065.8 1012.0 L1064.9 1003.0 L1065.3 985.0 L1066.2 976.0 L1068.2 964.0 L1072.6 949.0 L1079.0 935.1 L1094.0 910.6 L1112.0 887.3 L1127.0 873.1 L1136.0 865.9 L1148.0 857.4 L1157.0 852.4 L1162.8 850.0" stroke="#000" stroke-width="1" fill="none" shape-rendering="crispEdges"/>
<path d="M1160.8 909.2C1165.7 909.4 1170.8 915.9 1175.6 921.6C1180.4 927.2 1185.5 936.8 1189.6 943.4C1193.8 950.0 1198.7 955.5 1200.5 961.3C1202.3 967.1 1201.6 972.5 1200.5 978.4C1199.5 984.4 1196.6 991.2 1194.3 997.1C1191.9 1003.1 1189.9 1008.8 1186.5 1014.3C1183.1 1019.7 1182.3 1027.3 1174.0 1029.9C1165.7 1032.5 1144.9 1032.1 1136.6 1029.9C1128.3 1027.7 1127.8 1021.8 1124.2 1016.6C1120.5 1011.4 1117.3 1004.8 1114.8 998.7C1112.3 992.6 1110.2 986.0 1109.4 980.0C1108.5 974.0 1107.4 968.8 1109.8 962.9C1112.3 956.9 1118.1 951.2 1124.2 944.2C1130.2 937.1 1139.9 926.6 1146.0 920.8C1152.1 915.0 1155.8 909.1 1160.8 909.2Z" stroke="#000" stroke-width="1" fill="none" shape-rendering="crispEdges"/>
<path d="M1452.3 1465.0 L1444.6 1453.0 L1436.0 1442.1 L1424.0 1430.2 L1409.0 1418.4 L1400.0 1412.6 L1391.0 1408.5 L1382.0 1405.9 L1370.0 1404.9 L1355.0 1406.3 L1340.0 1409.5 L1325.0 1414.9 L1313.0 1421.0 L1301.0 1429.3 L1289.0 1439.5 L1275.3 1453.0 L1265.1 1465.0" stroke="#000" stroke-width="1" stroke-dasharray="9 5" fill="none" shape-rendering="crispEdges"/>
<rect x="433.0" y="466.8" width="21.1" height="29.6" fill="#fff"/><text xml:space="preserve" transform="translate(0,492.00) scale(1.1200,1)" font-size="26.47"><tspan x="387.6">0</tspan></text>
<rect x="1151.1" y="363.6" width="21.1" height="29.6" fill="#fff"/><text xml:space="preserve" transform="translate(0,388.80) scale(1.1200,1)" font-size="26.47"><tspan x="1028.7">0</tspan></text>
<rect x="919.9" y="398.4" width="42.1" height="29.6" fill="#fff"/><text xml:space="preserve" transform="translate(0,423.60) scale(1.1200,1)" font-size="26.47"><tspan x="822.5 840.9">10</tspan></text>
<rect x="919.9" y="433.5" width="42.1" height="29.6" fill="#fff"/><text xml:space="preserve" transform="translate(0,458.70) scale(1.1200,1)" font-size="26.47"><tspan x="822.5 840.9">20</tspan></text>
<rect x="919.9" y="468.6" width="42.1" height="29.6" fill="#fff"/><text xml:space="preserve" transform="translate(0,493.80) scale(1.1200,1)" font-size="26.47"><tspan x="822.5 840.9">30</tspan></text>
<rect x="919.9" y="504.3" width="42.1" height="29.6" fill="#fff"/><text xml:space="preserve" transform="translate(0,529.50) scale(1.1200,1)" font-size="26.47"><tspan x="822.5 840.9">40</tspan></text>
<rect x="919.9" y="557.2" width="42.1" height="29.6" fill="#fff"/><text xml:space="preserve" transform="translate(0,582.40) scale(1.1200,1)" font-size="26.47"><tspan x="822.5 840.9">50</tspan></text>
<rect x="1637.8" y="364.4" width="42.1" height="29.6" fill="#fff"/><text xml:space="preserve" transform="translate(0,389.60) scale(1.1200,1)" font-size="26.47"><tspan x="1463.5 1481.8">10</tspan></text>
<rect x="1637.8" y="446.2" width="42.1" height="29.6" fill="#fff"/><text xml:space="preserve" transform="translate(0,471.40) scale(1.1200,1)" font-size="26.47"><tspan x="1463.5 1481.8">20</tspan></text>
<rect x="1693.2" y="509.6" width="42.1" height="29.6" fill="#fff"/><text xml:space="preserve" transform="translate(0,534.80) scale(1.1200,1)" font-size="26.47"><tspan x="1513.0 1531.4">30</tspan></text>
<rect x="1693.2" y="599.0" width="42.1" height="29.6" fill="#fff"/><text xml:space="preserve" transform="translate(0,624.20) scale(1.1200,1)" font-size="26.47"><tspan x="1513.0 1531.4">40</tspan></text>
<rect x="1693.2" y="771.4" width="42.1" height="29.6" fill="#fff"/><text xml:space="preserve" transform="translate(0,796.60) scale(1.1200,1)" font-size="26.47"><tspan x="1513.0 1531.4">50</tspan></text>
<rect x="421.9" y="739.9" width="42.1" height="29.6" fill="#fff"/><text xml:space="preserve" transform="translate(0,765.10) scale(1.1200,1)" font-size="26.47"><tspan x="377.9 396.3">30</tspan></text>
<rect x="698.9" y="889.2" width="42.1" height="29.6" fill="#fff"/><text xml:space="preserve" transform="translate(0,914.40) scale(1.1200,1)" font-size="26.47"><tspan x="625.1 643.5">50</tspan></text>
<rect x="1140.5" y="658.9" width="42.1" height="29.6" fill="#fff"/><text xml:space="preserve" transform="translate(0,684.10) scale(1.1200,1)" font-size="26.47"><tspan x="1019.5 1037.9">60</tspan></text>
<rect x="1140.5" y="710.9" width="42.1" height="29.6" fill="#fff"/><text xml:space="preserve" transform="translate(0,736.10) scale(1.1200,1)" font-size="26.47"><tspan x="1019.5 1037.9">70</tspan></text>
<rect x="1140.5" y="770.5" width="42.1" height="29.6" fill="#fff"/><text xml:space="preserve" transform="translate(0,795.70) scale(1.1200,1)" font-size="26.47"><tspan x="1019.5 1037.9">80</tspan></text>
<rect x="421.9" y="1046.7" width="42.1" height="29.6" fill="#fff"/><text xml:space="preserve" transform="translate(0,1071.90) scale(1.1200,1)" font-size="26.47"><tspan x="377.9 396.3">30</tspan></text>
<rect x="477.8" y="1181.4" width="42.1" height="29.6" fill="#fff"/><text xml:space="preserve" transform="translate(0,1206.60) scale(1.1200,1)" font-size="26.47"><tspan x="427.7 446.1">40</tspan></text>
<rect x="477.8" y="1332.4" width="42.1" height="29.6" fill="#fff"/><text xml:space="preserve" transform="translate(0,1357.60) scale(1.1200,1)" font-size="26.47"><tspan x="427.7 446.1">50</tspan></text>
<rect x="698.9" y="1293.0" width="42.1" height="29.6" fill="#fff"/><text xml:space="preserve" transform="translate(0,1318.20) scale(1.1200,1)" font-size="26.47"><tspan x="625.1 643.5">60</tspan></text>
<rect x="1129.9" y="1017.1" width="63.2" height="29.6" fill="#fff"/><text xml:space="preserve" transform="translate(0,1042.30) scale(1.1200,1)" font-size="26.47"><tspan x="1010.2 1028.6 1047.0">100</tspan></text>
<rect x="1141.0" y="1056.1" width="42.1" height="29.6" fill="#fff"/><text xml:space="preserve" transform="translate(0,1081.30) scale(1.1200,1)" font-size="26.47"><tspan x="1019.9 1038.3">90</tspan></text>
<rect x="1140.5" y="1106.0" width="42.1" height="29.6" fill="#fff"/><text xml:space="preserve" transform="translate(0,1131.20) scale(1.1200,1)" font-size="26.47"><tspan x="1019.5 1037.9">70</tspan></text>
<rect x="1140.5" y="1128.8" width="42.1" height="29.6" fill="#fff"/><text xml:space="preserve" transform="translate(0,1154.00) scale(1.1200,1)" font-size="26.47"><tspan x="1019.5 1037.9">60</tspan></text>
<rect x="1140.5" y="1151.5" width="42.1" height="29.6" fill="#fff"/><text xml:space="preserve" transform="translate(0,1176.70) scale(1.1200,1)" font-size="26.47"><tspan x="1019.5 1037.9">50</tspan></text>
<rect x="1085.0" y="1177.6" width="42.1" height="29.6" fill="#fff"/><text xml:space="preserve" transform="translate(0,1202.80) scale(1.1200,1)" font-size="26.47"><tspan x="970.0 988.4">40</tspan></text>
<rect x="1085.0" y="1209.7" width="42.1" height="29.6" fill="#fff"/><text xml:space="preserve" transform="translate(0,1234.90) scale(1.1200,1)" font-size="26.47"><tspan x="970.0 988.4">30</tspan></text>
<rect x="1803.5" y="1106.0" width="42.1" height="29.6" fill="#fff"/><text xml:space="preserve" transform="translate(0,1131.20) scale(1.1200,1)" font-size="26.47"><tspan x="1611.4 1629.8">60</tspan></text>
<rect x="1803.5" y="1167.4" width="42.1" height="29.6" fill="#fff"/><text xml:space="preserve" transform="translate(0,1192.60) scale(1.1200,1)" font-size="26.47"><tspan x="1611.4 1629.8">50</tspan></text>
<rect x="1803.5" y="1230.2" width="42.1" height="29.6" fill="#fff"/><text xml:space="preserve" transform="translate(0,1255.40) scale(1.1200,1)" font-size="26.47"><tspan x="1611.4 1629.8">40</tspan></text>
<rect x="1803.5" y="1295.3" width="42.1" height="29.6" fill="#fff"/><text xml:space="preserve" transform="translate(0,1320.50) scale(1.1200,1)" font-size="26.47"><tspan x="1611.4 1629.8">30</tspan></text>
<rect x="1747.4" y="1359.3" width="42.1" height="29.6" fill="#fff"/><text xml:space="preserve" transform="translate(0,1384.50) scale(1.1200,1)" font-size="26.47"><tspan x="1561.3 1579.7">20</tspan></text>
<rect x="1693.2" y="1430.3" width="42.1" height="29.6" fill="#fff"/><text xml:space="preserve" transform="translate(0,1455.50) scale(1.1200,1)" font-size="26.47"><tspan x="1513.0 1531.4">10</tspan></text>
<rect x="2079.6" y="832.2" width="42.1" height="29.6" fill="#fff"/><text xml:space="preserve" transform="translate(0,857.40) scale(1.1200,1)" font-size="26.47"><tspan x="1858.0 1876.4">70</tspan></text>
<path d="M587.5 155.5 V1459.0M764.5 155.5 V1459.0M940.5 155.5 V1459.0M1117.5 155.5 V1459.0M1294.5 155.5 V1459.0M1470.5 155.5 V1459.0M1647.5 155.5 V1459.0M1824.5 155.5 V1459.0M2001.5 155.5 V1459.0" stroke="#aaa" stroke-width="1" stroke-dasharray="3.2 13.63" fill="none" shape-rendering="crispEdges"/>
<path d="M430.1 1371.5 H2089.0M430.1 1283.5 H2089.0M430.1 1195.5 H2089.0M430.1 1108.5 H2089.0M430.1 1020.5 H2089.0M430.1 932.5 H2089.0M430.1 844.5 H2089.0M430.1 756.5 H2089.0M430.1 669.5 H2089.0M430.1 581.5 H2089.0M430.1 493.5 H2089.0M430.1 405.5 H2089.0M430.1 317.5 H2089.0M430.1 230.5 H2089.0" stroke="#aaa" stroke-width="1" stroke-dasharray="3.2 17.26" fill="none" shape-rendering="crispEdges"/>
<path d="M924.3 800.9 932.9 797.3 940.4 795.1 941.9 797.7 941.0 803.1 930.7 803.1Z" fill="#00a0ff" stroke="none"/>
<path d="M566.4 472.0 568.8 468.5 571.3 465.6 574.7 464.2 578.4 462.6 582.6 461.9 586.3 462.2 589.5 464.4 592.4 465.7 595.6 466.6 599.4 468.4 603.7 469.5 608.0 469.4 611.4 469.4 615.8 469.6 619.6 469.4 623.9 469.3 628.8 469.4 632.4 469.9 636.1 469.6 640.1 469.5 643.7 467.9 648.3 466.0 651.6 464.7 654.4 463.3 658.0 460.1 660.9 457.9 663.8 455.8 667.3 453.4 671.2 450.6 674.1 448.1 677.2 446.1 680.8 445.3 684.7 444.2 686.6 440.2 689.7 436.7 692.8 435.0 696.5 433.3 699.7 431.7M700.0 431.4 703.5 430.0 707.5 428.2 711.0 426.4 714.9 425.3 719.2 425.0 722.6 424.3 726.2 423.3 729.7 421.5 732.7 419.3 736.2 416.7 739.8 414.7 743.1 413.3 744.9 409.3 746.8 405.6 748.5 401.9 749.7 398.3 750.3 394.1 751.0 389.6 751.0 386.2 750.3 384.5 753.3 382.5 756.9 382.0 760.2 382.9 762.8 384.8 764.3 388.5 765.4 391.0 770.1 390.3 772.9 387.9 774.0 383.8 772.9 380.6 770.0 379.8 771.7 376.4 775.0 374.3 778.7 374.1 780.9 375.8 783.9 374.6 786.5 372.2 788.1 368.4 790.4 365.6 795.2 365.1 798.7 365.5 803.2 365.3 806.4 366.5 809.1 369.2 813.0 371.2 816.6 372.7 820.2 373.8 824.1 374.4 828.9 375.7 831.4 378.7 833.5 381.7 836.0 385.1 838.0 388.8 840.4 392.4 841.9 395.6 841.7 399.9 841.0 403.1 838.4 406.2 835.3 409.2 831.6 412.0 828.5 414.6 826.6 417.4 822.9 418.6M788.6 366.4 792.7 365.6 795.2 368.2 791.9 370.6 789.4 369.8 788.6 366.4M935.4 351.4 939.4 354.0 943.4 356.8 946.1 358.8 948.6 361.6 950.2 364.9 950.6 367.5 946.5 366.6 943.8 364.6 941.0 362.2 938.8 358.7 936.6 354.8 935.4 351.4M1014.3 373.0 1019.4 371.9 1022.1 373.5 1024.2 376.4 1023.8 380.8 1026.0 383.5 1028.9 385.8 1032.2 388.4 1036.2 390.3 1040.0 390.4 1044.0 392.4 1047.0 394.8 1049.8 397.5 1048.8 400.7 1046.1 400.9 1042.4 399.7 1038.3 398.6 1034.1 398.2 1031.1 394.9 1027.9 392.1 1025.0 389.0 1021.3 386.2 1019.0 383.6 1017.0 380.6 1015.2 376.9 1014.3 373.0M1083.9 378.8 1087.5 381.8 1090.7 383.0 1094.9 384.5 1098.1 386.3 1099.8 389.6 1099.3 393.3 1098.5 397.8 1096.7 401.2 1095.7 403.2 1094.3 399.8 1094.1 397.0 1094.0 392.4 1091.0 389.5 1086.8 388.2 1082.4 386.7 1082.4 383.4 1083.9 378.8M1146.7 407.3 1150.4 408.4M1210.4 420.6 1213.6 419.5M1215.7 415.2 1218.9 414.6M1222.1 417.4 1228.6 416.3 1230.7 418.4M1233.9 409.9 1236.1 410.9M1276.1 421.6 1280.5 419.9 1284.1 418.6 1287.3 417.4 1286.8 421.4 1285.1 424.5 1282.9 426.5 1279.3 424.2 1276.1 421.6M1415.0 416.3 1418.9 413.8 1422.0 417.2 1421.3 421.3 1417.6 421.7 1413.8 419.3 1415.0 416.3M1434.7 424.0 1434.7 425.3M1435.6 429.6 1435.6 430.9M1546.8 460.2 1550.6 460.4 1546.8 460.2M1716.1 157.0 1719.6 154.0 1722.4 152.4 1726.2 153.9 1730.3 155.3 1733.7 157.2 1735.9 160.7 1738.5 162.9 1742.5 162.2 1743.2 165.8 1744.3 168.2 1743.1 170.6 1743.7 173.4 1746.3 176.8 1748.9 179.5 1750.5 182.0 1752.0 185.5 1752.4 190.0 1749.9 194.0 1748.6 192.0 1745.4 190.1 1740.8 188.4 1737.1 187.1 1733.5 186.4 1728.7 186.7 1727.2 184.2 1730.8 181.5 1735.1 181.0 1735.6 178.5 1733.1 176.5 1729.0 175.5 1725.7 174.7 1722.6 172.6 1722.0 168.1 1719.8 165.4 1717.8 161.2 1716.1 157.0M1740.7 222.4 1744.8 222.8 1745.5 226.0 1746.1 230.2 1746.4 235.0 1746.4 238.9 1746.3 242.5 1745.2 245.9 1744.5 249.4 1742.4 252.9 1738.4 253.5 1734.5 252.3 1731.3 250.0 1730.0 245.0 1729.4 241.2 1730.2 238.6 1731.7 234.7 1733.0 232.0 1735.6 228.8 1738.7 226.3 1740.7 222.4M1720.4 284.1 1724.0 284.9 1725.4 288.5 1726.2 292.9 1726.0 296.7 1724.5 301.1 1722.9 304.8 1718.2 304.4 1714.0 303.2 1711.9 301.1 1710.8 297.2 1712.8 293.8 1714.4 289.8 1716.3 285.5 1720.4 284.1M1854.7 288.8 1858.4 288.1 1861.7 290.5 1863.3 293.6 1865.0 297.5 1867.8 301.0 1871.8 303.1 1874.7 305.3 1875.0 309.1 1872.3 311.5 1867.8 313.0 1863.2 312.7 1859.3 311.1 1856.9 307.9 1856.0 304.9 1855.7 300.7 1854.8 296.4 1855.0 292.8 1854.7 288.8M1712.4 319.4 1714.0 315.7 1716.6 314.0 1717.9 314.3 1715.9 317.8 1712.4 319.4M1707.5 344.5 1709.6 340.2M1692.5 363.8 1695.9 362.3 1699.6 360.5 1699.5 363.5 1697.7 366.1 1694.6 366.6 1692.5 363.8M1679.6 385.2 1682.8 388.2 1684.2 391.2 1684.1 393.8 1681.8 397.6 1680.0 401.4 1677.4 403.5 1673.3 405.4 1670.0 405.1M1757.9 472.0 1761.0 470.1 1764.6 467.4 1768.6 466.3 1772.4 465.7 1776.4 465.5 1778.1 467.1 1778.6 470.3 1775.0 472.0M566.4 472.0 566.8 475.9 567.5 480.3 568.4 484.5 567.3 488.4 565.3 491.0 563.6 494.4 563.0 498.6 561.7 503.1 560.1 507.0 557.9 510.3 555.5 513.5 552.2 515.2 549.5 514.6 545.9 512.6 542.8 510.7 540.3 512.7 537.0 513.5 534.0 510.7 534.2 505.7 536.6 504.6 541.4 504.4 543.7 502.0 544.4 499.0 546.0 496.1 549.5 495.0 555.1 494.8 558.7 494.7 553.4 494.5 549.2 493.8 545.9 493.7 542.0 492.7 537.7 491.2 533.7 490.4 529.5 488.9 525.7 487.3 521.9 486.4 519.1 485.6 516.1 483.7 511.5 482.8 508.6 484.5 506.4 487.1 502.8 489.8 499.9 493.0 496.8 495.7 494.9 499.5 492.6 502.8 489.4 503.8 485.4 505.6 481.8 507.2 478.8 509.9 478.3 511.6 478.9 514.6 474.4 517.0 470.2 518.6 465.6 519.9 462.7 521.1 461.5 524.7 458.6 527.7 455.7 531.4 453.5 534.2 453.4 537.4 452.9 540.2 451.6 543.2 452.6 547.9 453.7 552.7 449.8 554.7 446.0 555.8 444.7 558.7 442.5 562.4 439.8 566.7 440.7 566.8 444.3 565.0 447.8 563.5 452.1 560.9 452.8 563.6 450.4 566.9 448.7 569.9 447.3 572.9 446.7 576.2 447.2 580.2 446.4 584.6 445.4 589.0 443.8 592.8 443.2 597.2 443.0 601.4 440.8 605.5 440.3 607.8 444.5 608.0 447.3 612.9 447.8 616.5 446.9 620.0 445.8 623.7 444.5 627.4 443.0 630.6 439.4 630.7 434.4 631.4 429.7 634.2 426.3 635.3 425.0 630.9 421.2 631.4 417.4 632.8 413.9 633.8 410.0 635.3M790.4 697.4 830.0 670.2M1062.5 513.8 1062.5 527.7 1093.6 528.8M1062.5 649.9 1051.8 655.2 1057.1 667.0 1060.4 662.7M1043.2 743.1 1050.7 728.1 1072.1 706.6M830.0 670.2 851.4 654.6M924.3 800.9 932.9 797.3 940.4 795.1 941.9 797.7 941.0 803.1 930.7 803.1 924.3 800.9M1558.6 545.9 1565.0 544.9 1573.6 545.9 1580.0 547.0M1558.6 545.9 1558.6 556.6 1564.6 557.3 1564.6 547.0M1614.3 581.3 1617.7 578.9 1621.6 578.5 1626.2 578.0 1628.4 580.6 1629.4 583.8 1632.0 586.6 1635.2 589.2 1639.1 591.2 1642.1 593.1M1627.1 588.8 1625.8 593.1 1625.8 597.5 1624.0 599.7 1620.7 602.7M1631.4 589.9 1632.3 593.3 1633.0 598.5 1633.0 603.4 1631.6 607.4 1631.4 611.3M1642.1 585.6 1645.0 587.5 1648.2 588.9 1651.9 591.2 1654.3 594.0 1657.7 597.6 1660.7 600.3 1662.0 603.1 1664.3 606.5 1665.4 609.7 1661.4 611.3M1670.0 596.3 1668.3 598.9 1667.2 603.0 1667.9 606.1 1670.0 609.1M1657.1 577.0 1660.3 574.5 1663.4 572.4 1666.3 571.7 1670.0 569.5M1470.7 510.6 1474.9 510.0 1478.6 512.4 1480.5 515.3 1477.5 515.5 1472.7 513.4 1470.7 510.6M1451.4 508.9 1454.6 508.2 1456.5 510.2 1453.7 511.9 1451.4 508.9M1554.3 792.4 1556.7 789.5 1560.0 787.2 1561.5 783.6 1563.7 779.8 1568.0 780.3 1572.4 781.2 1575.7 781.1 1579.7 780.7 1584.4 780.0 1585.6 783.5 1582.8 786.4 1580.2 788.4 1581.2 791.8 1581.3 794.7 1579.2 797.7 1575.2 800.2 1571.4 802.0M1565.0 802.0 1567.0 797.7 1566.0 794.8 1562.2 794.3 1558.5 792.9 1554.3 792.4M1595.0 716.3 1610.0 724.9 1625.0 730.2 1635.7 728.1 1652.9 723.8 1670.0 719.5M1665.7 731.3 1666.5 733.9 1667.7 737.7 1670.0 739.9M1762.1 472.0 1758.2 473.6 1754.5 475.4 1751.7 477.4 1752.7 480.6 1756.6 480.6 1761.1 478.1 1764.3 476.3 1767.7 474.7 1771.8 473.7 1776.1 472.0M1670.0 568.9 1674.3 566.3 1676.7 565.3 1679.7 563.2 1684.0 560.4 1687.9 559.8 1691.8 560.1 1694.3 558.3 1695.9 554.6 1694.9 549.8 1693.7 546.5 1693.6 543.0 1694.3 538.7 1693.8 534.4 1693.7 529.9 1693.6 525.2 1690.4 524.0 1685.2 523.7 1681.5 523.3 1678.9 521.8 1680.0 519.3 1684.3 518.1 1687.6 516.6 1691.7 515.7 1696.1 514.1 1699.3 513.2 1702.9 512.6 1707.1 511.9 1711.4 511.8 1715.0 511.0 1719.3 510.5 1723.3 510.4 1727.7 510.1 1731.7 509.7 1736.1 508.3 1739.4 508.3 1742.8 507.7 1742.8 510.0 1741.4 513.0 1739.9 516.8 1739.1 521.8 1737.0 525.3 1735.8 529.2 1735.4 533.1 1734.6 536.6 1734.8 539.9 1736.0 543.9 1738.2 547.6 1739.4 552.2 1737.2 555.7 1736.2 559.6 1736.0 562.7 1735.3 566.0 1732.4 570.0 1729.3 572.7 1725.6 573.7 1721.7 574.5 1717.8 575.1 1714.3 575.8 1710.0 575.1 1705.6 575.2 1702.3 575.6 1698.1 575.4 1694.2 575.9 1690.2 576.1 1686.9 576.3 1682.9 577.0 1678.1 576.7 1673.8 575.1 1670.0 574.9M1842.5 722.7 1845.7 722.7 1850.3 724.0 1854.3 726.2 1857.5 728.3 1859.6 729.8 1862.7 731.5 1867.1 734.5 1871.3 736.3 1874.1 738.0 1877.4 740.6 1880.6 742.4 1884.4 743.3 1888.1 745.5 1891.3 747.9 1895.5 750.4 1898.8 752.0 1900.7 754.6 1903.1 757.0 1906.3 760.2 1910.4 762.4 1913.3 764.5 1915.7 767.7 1918.3 770.6 1921.5 772.6 1925.0 775.4 1927.3 778.3 1928.6 781.8 1930.8 785.0 1933.6 787.0 1937.8 789.6 1941.2 791.5 1944.1 794.0 1945.6 798.0 1947.5 802.0M1841.4 725.9 1845.1 727.0 1848.2 729.2 1851.7 731.7 1855.1 733.9 1859.3 735.7 1862.4 737.9 1866.0 740.3 1869.9 742.7 1873.6 744.1M1755.7 641.3 1752.3 642.3 1749.3 644.4 1745.5 646.9 1742.0 649.7 1739.2 652.1 1736.7 654.8 1733.1 658.2 1730.7 660.9 1729.5 662.2 1732.2 660.2 1734.2 657.4 1736.6 654.3 1737.9 656.0 1736.3 660.8 1734.7 665.3 1731.8 667.5 1729.5 669.7 1727.8 674.1 1726.9 677.7 1724.9 681.1 1723.7 684.9 1721.8 689.2 1720.3 691.6 1719.2 695.1 1718.6 699.4 1717.4 702.9 1713.5 704.7 1710.4 705.5 1706.8 704.9 1702.5 704.0 1699.3 704.5 1694.7 704.2 1690.3 703.4 1686.8 704.2 1683.4 703.0 1680.2 701.9 1680.4 705.2 1682.6 708.1 1685.9 709.2 1690.7 711.4 1694.2 712.4 1697.5 712.9 1702.1 713.3 1705.4 715.8 1708.1 718.2 1711.2 719.5 1714.5 718.1 1717.3 716.7 1721.7 714.1 1726.0 712.8 1728.8 714.3 1731.4 714.4 1734.4 710.8 1737.2 708.2 1740.9 706.2 1745.3 704.6 1750.0 704.2 1753.3 704.5 1757.4 705.0 1761.7 705.1 1765.4 705.6M1727.9 718.4 1736.4 712.0M1670.0 609.1 1672.2 612.9 1670.0 615.6M930.7 846.4 958.6 883.4 984.3 913.4 990.7 922.0M1559.6 802.0 1563.1 804.7 1566.4 803.9 1571.4 802.0M1584.3 802.0 1581.5 803.1 1577.7 805.6 1575.6 809.7 1578.2 813.4 1580.7 816.2 1580.6 819.1 1578.6 822.5 1575.8 825.2 1573.1 828.3 1569.9 831.6 1566.8 833.9 1563.6 836.4 1561.0 839.7 1560.3 842.6 1561.7 847.0 1562.8 850.2 1564.0 854.1 1565.7 857.5 1569.4 859.7 1572.4 858.3 1573.3 853.5 1570.5 851.6 1566.6 849.4 1568.6 845.2 1570.1 841.6 1571.0 837.6 1572.1 833.9 1573.3 830.5 1575.1 826.8 1577.9 823.4M1702.1 936.6 1760.0 1002.4M1948.6 877.0 1950.6 873.7 1952.5 870.1 1954.3 866.3 1956.8 863.1 1958.1 860.5 1960.8 858.3 1965.7 856.3 1969.3 853.9 1972.9 853.8 1976.5 855.9 1980.5 857.5 1983.9 857.7 1988.0 859.5 1992.5 861.4 1997.0 861.9 2000.7 862.8 2003.4 864.7 2006.7 866.6 2009.3 868.8 2012.3 871.7 2015.7 874.9 2018.5 878.5 2020.4 881.5 2023.3 884.2 2026.9 886.2 2030.4 888.0 2033.6 890.5 2036.0 893.5 2038.1 896.6 2040.5 899.9 2042.9 903.9 2045.6 906.3 2049.6 905.6 2053.4 905.8 2056.9 907.5 2060.4 909.0 2064.1 910.8 2067.0 913.0 2069.8 915.9 2071.8 919.7 2072.8 923.5 2074.5 926.8 2076.0 931.0 2076.2 935.0 2076.8 939.1 2076.4 942.5 2075.5 946.5 2075.4 951.2 2074.9 955.4 2074.3 959.1 2073.5 963.6 2072.3 967.1 2072.1 970.6 2071.6 974.5 2069.3 977.4 2067.1 981.0 2065.6 985.2 2064.7 989.5 2065.3 993.2 2065.6 996.4 2067.6 998.9 2071.0 998.2 2072.7 1001.5 2071.6 1004.9 2068.0 1007.1 2064.1 1005.6 2063.8 1008.3 2063.4 1012.5 2062.8 1016.6 2062.4 1018.5 2057.9 1019.6 2054.5 1021.0 2051.4 1020.4 2047.4 1020.9 2043.0 1021.0 2039.2 1020.4 2034.8 1020.2 2030.5 1019.7 2027.4 1021.2 2024.4 1024.0 2021.3 1026.1 2017.1 1027.7 2014.3 1029.5 2012.3 1032.1 2009.7 1035.7 2010.1 1040.3 2011.9 1043.0 2013.8 1046.7 2015.5 1050.7 2013.8 1054.6 2012.5 1058.4 2011.2 1061.9 2009.9 1065.4 2008.2 1069.5 2006.3 1073.6 2004.9 1077.2 2004.0 1081.3 2002.3 1084.2 2000.0 1086.4 1997.7 1089.8 1996.3 1094.1 1996.6 1098.4 1997.2 1102.2 1996.9 1106.1 1999.1 1110.0 2001.2 1112.9 2003.5 1116.0 2005.8 1118.5 2008.0 1121.4 2011.2 1124.8 2012.1 1128.7 2015.0 1132.0M2087.9 935.9 2086.4 938.8 2084.2 942.7 2081.8 946.7 2080.2 950.4 2079.1 953.4 2078.2 957.6 2078.8 960.8 2078.4 964.8 2076.4 968.8 2074.5 972.4 2072.9 975.6M1170.7 1172.7 1131.1 1207.0M1215.7 1351.6 1250.0 1380.6M954.3 1309.4 958.7 1308.3 962.3 1308.1 965.5 1307.7 970.0 1306.3 974.1 1305.1 976.7 1304.1 980.5 1304.2 984.2 1305.5 988.4 1306.5 992.4 1307.2 995.0 1308.4M995.0 1308.4 1104.3 1308.4M1104.3 1308.4 1101.8 1304.4 1098.8 1301.4 1096.0 1298.5 1094.5 1296.9 1096.1 1293.9 1097.4 1290.2 1099.3 1286.7 1100.6 1283.9 1102.7 1287.2 1106.3 1288.3 1108.0 1290.8 1109.7 1295.1 1112.3 1298.7 1114.7 1302.8 1117.2 1304.9 1120.2 1305.5 1123.9 1306.7 1129.1 1306.4 1132.4 1304.5 1135.3 1302.5 1137.9 1298.8 1141.9 1296.4 1144.3 1293.2 1146.2 1289.6 1147.8 1286.8 1150.8 1283.3 1153.3 1280.2 1155.5 1278.0 1159.7 1276.6 1162.8 1274.8 1166.4 1272.7 1169.5 1273.0 1173.8 1274.3 1175.7 1276.8 1178.2 1281.1 1180.0 1284.5 1181.8 1287.6 1183.7 1290.9 1186.0 1294.7 1188.6 1298.7 1190.2 1302.5 1192.3 1305.5 1194.6 1309.2 1195.7 1312.9 1198.1 1316.3 1198.2 1319.3 1199.6 1323.0 1201.2 1327.1 1201.1 1331.4 1199.6 1335.0 1199.6 1339.3 1200.0 1343.1 1199.2 1346.6 1197.5 1351.0 1200.1 1354.5 1203.8 1355.6 1208.5 1354.4 1212.1 1353.2 1215.7 1352.7M954.3 1309.4 954.3 1365.6M954.3 1365.6 958.9 1364.4 962.6 1364.8 965.9 1366.6 969.1 1366.3 972.7 1365.5 976.5 1365.1 980.2 1365.8 984.4 1366.7 988.5 1367.6 992.4 1367.1 996.5 1366.1 1000.0 1365.9 1004.1 1367.3 1007.3 1370.8 1010.3 1373.6 1011.5 1376.6 1013.0 1381.0 1016.2 1382.9 1015.7 1386.2 1014.9 1390.7 1014.8 1394.6 1016.4 1398.3 1017.4 1402.0 1014.0 1403.9 1009.7 1405.5 1006.2 1404.2 1003.0 1403.3 999.8 1402.2 996.0 1400.1 992.5 1397.9 988.5 1395.9 985.1 1396.6 981.6 1397.9 978.7 1400.1 975.9 1401.7 971.9 1401.1 968.0 1402.3 964.3 1404.7 960.2 1405.5 956.4 1405.6 952.4 1406.7 948.2 1406.5 944.7 1407.2 941.4 1408.1 936.5 1408.9M936.5 1408.9 935.4 1459.2M1552.1 1132.0 1553.5 1135.6 1556.1 1139.0 1558.3 1142.2 1560.8 1145.9 1564.3 1146.7 1568.6 1147.6 1573.1 1146.5 1576.8 1145.3 1579.2 1142.6 1581.3 1139.4 1583.0 1135.9 1583.9 1132.0M1927.1 1353.8 1931.5 1352.1 1934.8 1350.7 1936.9 1347.8 1939.5 1344.7 1944.0 1346.8 1948.7 1347.5 1952.5 1348.2 1956.2 1347.8 1958.2 1344.6 1959.2 1341.3 1958.8 1335.9 1957.6 1332.6 1960.6 1331.1 1963.6 1328.3 1965.6 1325.7 1968.5 1323.1 1971.6 1320.5 1975.5 1321.6 1980.2 1322.3 1984.9 1322.0 1987.8 1324.6 1991.5 1326.7 1995.9 1326.8 1999.8 1325.4 2002.6 1322.1 2002.6 1318.4M2025.7 1309.9 2029.7 1309.8 2033.5 1309.5 2037.6 1309.8 2041.1 1309.4 2044.1 1306.8 2045.9 1303.5 2048.8 1301.5 2051.1 1297.9 2052.4 1293.6 2055.0 1290.3 2057.3 1288.8 2061.5 1286.5 2065.7 1286.2 2068.8 1285.3 2073.4 1284.3 2077.1 1283.7 2080.5 1283.2 2084.0 1284.5 2087.9 1287.4M2013.9 1132.0 2015.8 1134.7 2017.8 1139.3 2021.4 1142.1 2024.3 1144.0 2026.9 1146.9 2029.2 1150.4 2031.8 1153.6 2032.3 1157.0 2031.6 1160.4 2031.7 1164.1 2035.9 1166.1 2039.6 1167.5 2044.1 1165.8 2048.5 1163.8 2051.7 1164.5 2054.7 1164.5 2059.2 1163.4 2063.9 1162.6 2064.6 1166.8 2065.2 1171.6 2067.0 1175.5 2066.6 1179.3 2066.4 1183.3 2068.5 1186.9 2070.3 1190.2 2072.2 1193.5 2072.2 1197.9 2072.3 1201.5 2072.9 1205.3 2075.3 1208.5 2077.4 1212.4 2079.7 1215.7 2081.5 1219.2 2084.5 1223.1 2086.4 1226.9 2088.9 1228.4" stroke="#000" stroke-width="1" fill="none" stroke-linejoin="round" shape-rendering="crispEdges"/>
<path d="M822.9 418.6 821.3 421.7 818.7 425.6 815.7 427.6 811.7 428.3 808.0 429.2 804.8 430.7 801.6 432.3 798.5 432.9 794.1 434.0 789.5 434.8 785.3 436.8 781.6 438.2 777.8 439.3 773.9 438.7 769.2 439.5 766.1 443.0 766.8 447.2 766.9 451.0 768.1 455.3 768.7 459.4 769.9 463.5 771.4 467.1 772.7 470.7 774.6 474.3 776.7 476.9 779.8 479.9 783.2 484.1 785.1 486.6 787.7 488.2 786.5 490.8 789.1 490.9 793.0 491.9 797.1 494.4 794.0 495.6 789.4 495.8 788.3 499.1 790.5 502.9 792.1 506.1 792.9 509.6 795.2 513.0 798.3 516.3 800.2 519.1 800.4 523.8 799.6 526.9 798.4 530.2 797.7 534.9 797.1 538.6 795.1 542.0 792.1 545.3 789.3 548.4 786.7 550.8 785.0 553.3 782.2 556.5 780.0 560.0M822.9 418.6 819.0 420.7 814.7 421.7 811.1 422.5 808.6 424.1 804.9 426.5 800.9 427.4 797.4 427.8 792.6 428.8 788.8 430.9 785.2 431.3 780.7 432.2 777.0 433.5 773.2 434.8 769.2 436.0 765.7 437.6 763.8 441.7 761.7 444.8 758.9 448.0 757.2 451.2 756.5 455.0 754.4 457.8 752.3 461.9 750.7 466.7 748.4 469.2 745.8 472.3 744.2 475.4 742.5 478.8 739.2 480.3 735.2 479.9 730.7 479.8 726.0 480.4 721.8 481.0 720.9 484.8 719.2 489.1 716.5 492.2 714.9 496.0 712.3 498.9 709.1 500.6 706.2 503.9 704.6 506.5 703.8 510.9 702.2 514.4 700.0 518.6M808.6 497.1 813.2 494.3 816.2 493.9 819.5 494.9 823.2 494.9 827.8 493.8 831.4 492.5 835.1 491.1 838.2 489.1 841.6 486.9 845.4 485.9 848.5 483.8 852.5 481.3 857.0 479.2 861.0 477.5 864.0 476.4 867.1 475.6 871.1 474.4 875.1 472.5 879.3 472.3 883.6 471.5 887.4 470.7 891.2 470.7 894.1 469.7 898.3 467.2 901.4 466.3 904.9 465.6 909.0 463.7 913.5 461.9 917.3 460.8 920.8 459.7 925.4 458.6 927.7 456.2 930.5 453.4 934.4 451.0 936.8 450.3 940.6 450.3 945.4 449.8 949.1 449.7 954.0 448.8 958.1 449.0 961.4 450.0M808.6 497.1 811.0 500.4 814.9 501.1 813.6 502.9 813.0 507.1 813.3 510.7 809.0 511.3 805.8 512.1 804.1 513.7 804.8 516.9 805.5 520.3 806.3 524.2 808.5 527.3 805.4 530.1 805.3 532.9 808.0 536.0 811.3 538.6 811.5 542.5 811.3 545.8 811.2 549.1 814.0 553.1 816.2 556.3 818.6 560.0M920.0 437.1 920.4 432.4 920.8 428.9 918.9 425.1 917.1 421.2 915.4 418.4 914.2 415.3 916.5 412.0 918.6 408.2 920.2 404.0 921.5 401.1 922.4 397.3 924.8 395.0 928.8 391.7 932.2 389.4 935.4 388.3 940.3 388.3 944.4 389.8 948.3 390.5 950.4 392.4 951.7 396.7 954.0 400.3 956.1 403.7 957.5 408.0 958.5 412.2 959.3 415.3 959.7 418.9 959.8 423.5 960.8 427.5 961.3 430.9 962.1 434.6 963.1 438.7 965.7 442.9 967.7 445.9 970.6 447.9 973.7 451.7 977.8 453.8 981.2 450.8 984.3 449.3 988.0 449.5 992.4 450.9 996.1 450.3 1000.0 449.3M920.0 437.1 923.5 438.1 928.0 438.6 932.4 437.3 935.6 436.7 939.7 435.6 944.6 435.4 948.7 434.6 952.9 433.8 956.7 433.0 958.8 434.4 960.2 438.3 962.2 441.5 963.6 445.7M828.6 494.3 831.2 497.1 832.8 500.7 833.5 504.5 836.8 508.7 840.6 511.2 843.4 514.2 843.5 517.5 844.8 521.3 846.4 525.2 849.3 529.0 850.6 532.1 850.3 535.8 854.1 537.9 858.1 539.4 861.1 540.3 865.3 540.3 869.2 540.1 870.6 544.6 873.4 548.4 875.1 551.5 876.9 553.2 879.5 555.9 882.9 560.0M870.0 540.0 874.0 538.4 877.4 537.3 880.4 535.3 883.8 533.8 889.2 533.4 893.0 532.5 895.9 533.1 899.8 533.1 903.7 532.5 907.4 531.9 911.5 530.7 916.6 529.9 919.9 528.8 923.4 526.7 926.7 525.6 930.8 524.0 935.2 522.7 938.8 521.6 942.8 520.3 946.0 520.1 950.4 519.6 954.8 517.9 958.1 517.1 960.9 515.9 964.4 513.9 968.4 515.3 972.4 517.2 976.7 517.1 980.5 515.3 982.4 516.8 983.4 520.3 987.7 518.6 992.4 518.4 996.5 518.9 1000.0 519.3M907.1 532.1 906.2 536.4 902.3 538.5 898.7 540.7 894.9 542.9 893.2 544.9 891.4 548.5 888.7 550.9 885.5 552.7 881.4 554.3M1218.9 428.1 1223.0 426.9 1227.0 424.9 1231.7 425.1 1235.9 425.3 1240.1 425.6 1241.7 422.2 1242.2 418.0 1239.3 415.2M967.1 450.6 970.6 451.4 974.7 453.0 978.8 451.6 981.7 449.7 984.9 449.5 988.9 449.7 992.7 449.4 996.6 448.5 1000.4 448.2 1004.6 447.2 1009.3 447.4 1013.6 447.6 1017.0 449.1 1020.4 450.9 1022.4 452.0 1026.4 454.5 1030.7 454.7 1034.3 454.5 1037.5 454.6 1040.4 454.5 1044.2 455.9 1048.1 457.4 1051.6 459.1 1054.4 461.3 1058.6 463.6 1063.0 465.1 1066.6 466.8 1069.7 468.7 1073.4 470.1 1076.4 472.0M746.4 472.0 746.3 476.3 743.6 479.2 738.8 479.3 734.7 480.0 731.0 480.9 727.1 481.7 723.1 483.5 721.2 486.1 719.9 489.5 718.2 492.2 717.3 495.0 714.6 499.3 711.0 501.7 708.2 503.3 705.9 506.4 703.8 510.4 702.5 514.3 701.5 517.6 700.4 522.0 698.0 525.4 695.4 528.6 693.6 531.8 691.3 537.0 687.9 539.7 686.3 541.6 685.8 545.0 684.7 549.9 683.8 553.2 683.9 556.8 684.3 560.4 683.5 564.3 681.9 568.8 679.5 572.9 678.8 576.2 678.6 580.0 677.2 585.2 676.9 589.2 678.2 591.9 680.1 595.9 678.8 599.2 676.8 602.9 674.7 607.0 672.8 609.6 671.0 613.3 669.2 616.7 666.5 619.8 663.7 622.4 662.4 626.1 660.3 630.2 658.3 633.1 656.3 636.5 653.1 639.7 650.9 642.3 648.2 645.6 644.3 648.2 642.7 651.2 644.0 653.9 648.4 654.3 652.0 654.5 656.0 652.8 660.6 651.0 663.4 649.5 666.6 647.1 670.1 645.6 672.8 643.2 675.7 645.1 676.8 649.1 678.2 653.2 679.7 657.6 681.6 660.5 686.0 659.0 688.8 657.5 691.7 658.3 695.1 661.1 696.4 665.3 696.8 668.9 697.3 672.6 698.6 677.4 699.8 680.3 701.2 683.9 703.2 688.0 705.2 691.9 706.1 695.5 706.5 698.6 707.5 702.2 710.5 704.3 713.9 707.5 716.1 710.9 718.4 714.1 720.8 716.6 724.4 719.4 727.3 721.9 728.9 725.4 731.2 729.1 731.7 733.9 731.0 737.7 731.0 740.4 732.6 744.2 733.2 748.1 733.5 751.3 729.8 752.8 725.9 755.2 723.1 758.4 721.2 762.3 722.6 766.5 722.9 770.0 722.7 774.5 722.0 778.7 722.4 782.1 722.9 786.7 723.0 791.0 723.0 794.9 723.5 798.2 722.4 802.0M774.3 472.0 776.3 475.6 778.4 478.9 781.1 481.8 783.1 484.4 786.7 486.7 786.6 489.7 789.5 491.6 793.6 492.0 795.3 493.2 791.3 494.9 789.2 498.8 789.5 501.7 790.9 505.3 793.0 509.8 794.7 512.3 798.1 516.0 800.5 519.3 800.1 522.0 799.1 525.1 799.6 529.3 799.5 533.9 797.9 538.3 797.4 542.1 794.2 545.0 792.3 547.9 789.3 551.4 786.9 553.7 784.5 556.9 782.5 560.7 780.3 564.3 777.0 567.5 774.8 569.7 771.4 571.2 767.5 574.0 764.9 575.8 763.5 579.2 761.7 582.9 759.1 586.5 756.5 590.5 753.3 593.7 752.2 596.3 754.7 600.4 755.8 604.9 758.2 607.9 761.1 611.3 763.3 614.6 764.8 617.8 767.0 620.7 770.0 624.7 771.5 628.8 774.2 629.9 778.3 631.0 781.9 633.4 784.5 635.2 786.8 637.9 785.7 642.1 784.7 645.6 785.0 649.3 785.3 652.9 786.4 656.9 787.3 660.2 790.4 662.6 794.5 664.3 799.7 665.0 803.8 665.0 806.7 665.1 810.9 665.0 815.0 664.2 819.2 662.7 822.9 661.3 826.6 659.8 830.0 658.4M802.1 512.7 806.9 512.0 810.0 511.6 812.2 507.4 814.7 504.1 814.6 500.7 811.8 497.4 814.9 496.0 819.1 494.2 822.4 494.1 825.5 493.4 830.0 493.4M802.1 512.7 803.5 515.9 805.5 520.3 806.6 524.9 807.0 528.3 808.1 531.5 809.7 535.1 811.5 538.8 812.8 542.0 814.5 545.3 816.0 549.0 817.9 552.9 820.2 557.1 823.2 560.2 825.4 563.5 827.8 565.8 830.0 568.4M729.3 722.7 732.1 718.2 733.2 714.4 735.2 711.5 736.9 708.8 740.9 706.9 744.3 705.7 748.1 705.2 751.9 704.2 755.8 703.5 759.8 703.4 762.4 701.2 765.3 700.5 766.7 703.3 770.6 702.0 774.6 703.0 778.0 705.2 779.7 708.7 782.6 712.2 784.0 716.0 782.5 719.5 782.1 723.7 780.1 726.7 777.6 730.2 774.6 733.4 772.9 736.3 772.4 740.4 775.8 743.2 779.4 744.9 782.8 747.0 786.4 749.8 789.0 751.8 793.3 753.9 797.7 754.2 800.5 753.1 802.5 755.6 805.0 759.8 806.5 761.7 806.4 765.9 806.5 770.0 807.3 774.3 808.1 777.9 808.9 781.8 807.9 785.7 807.0 790.6 807.0 794.5 809.4 797.8 810.7 802.0M774.3 800.9 778.3 799.4 781.8 799.3 786.8 798.3 790.7 797.6 793.9 797.8 798.0 797.9 802.0 798.9 805.1 798.9 808.9 799.9 812.1 801.4 817.1 802.0M830.0 761.7 826.5 763.7 822.8 765.4 820.1 767.8 817.0 771.0 815.1 774.0 813.0 776.7 812.3 779.5 813.5 782.5 811.4 785.6 808.6 789.1M830.0 493.4 833.7 491.1 836.8 488.8 840.7 486.9 844.4 485.7 847.5 484.2 850.6 483.7 854.4 481.9 858.8 479.4 862.5 478.1 867.2 476.3 870.5 475.8 874.2 475.4 877.8 474.6 881.3 474.0 885.6 472.0 890.4 471.9 894.3 472.0M1072.1 472.0 1076.6 474.2 1079.8 476.4 1082.5 478.1 1084.3 481.0 1086.5 484.7 1088.0 489.2 1088.7 492.7 1089.9 496.8 1088.4 499.1 1088.8 499.5 1092.5 499.6 1096.2 501.2 1097.7 505.0 1094.7 504.1 1090.7 505.4 1089.6 511.1 1088.3 514.4 1089.0 518.3 1090.5 522.6 1091.3 526.4 1093.8 529.0 1097.4 531.6 1100.0 533.3 1103.5 535.3 1107.9 536.8 1111.8 538.0 1115.9 538.7 1120.3 539.2 1124.2 539.3 1128.5 538.8 1132.0 539.3 1134.7 538.4 1137.7 537.9 1141.8 537.8 1145.9 537.6 1150.5 536.2 1154.2 535.1 1157.9 534.6 1162.2 534.3 1165.7 533.8 1170.1 533.6 1175.3 532.9 1178.4 531.3 1181.8 530.5 1186.6 530.5 1190.6 530.6 1194.3 530.7 1197.8 529.6 1201.4 528.9 1205.2 527.3 1209.3 527.2 1213.9 528.7 1217.7 527.8 1222.0 526.2 1225.8 526.4 1229.3 527.1 1233.0 526.2 1237.9 525.4 1242.2 525.6 1246.2 524.8 1250.0 524.5M830.0 499.9 833.4 503.6 834.8 505.6 837.7 508.1 841.2 510.7 842.6 514.0 843.4 518.5 844.7 522.2 847.8 525.0 849.7 528.8 851.4 533.6 852.1 536.6 855.2 538.6 858.9 540.4 863.7 541.0 867.9 540.8 871.9 540.3 872.5 544.3 872.5 548.4 874.9 550.6 877.9 553.6 882.8 554.9 886.6 553.8 889.9 551.8 892.5 549.0 893.0 545.4 894.9 541.8 899.2 540.6 903.1 539.4 905.7 537.2 907.5 533.6 911.1 532.8 915.0 532.0 918.0 530.2 922.1 528.8 926.3 527.2 930.3 526.3 933.6 525.3 938.1 523.1 942.4 521.8 946.0 521.0 948.9 520.2 952.6 519.5 956.9 517.8 960.7 515.2 964.8 515.0 968.9 516.1 972.9 515.9 976.6 515.7 980.2 515.8 982.6 518.1 983.1 522.0 987.1 521.3 991.3 521.1 995.6 520.6 999.4 519.8 1004.0 520.5 1007.6 521.6 1011.7 522.0 1015.3 522.7 1019.3 521.5 1022.9 520.3 1026.5 520.6 1030.9 520.1 1034.4 519.8 1038.5 521.6 1043.1 523.1 1046.9 520.6 1048.5 518.1 1050.8 517.3 1055.9 516.9 1060.6 515.4 1064.0 515.2 1066.9 517.2 1069.2 520.1 1072.5 524.1 1075.9 524.8 1079.3 525.8 1083.1 526.9 1087.2 527.8 1091.2 528.8 1094.6 529.4M879.3 554.5 877.4 558.2 876.0 560.8 874.7 564.5 872.1 568.4 868.7 571.1 865.7 573.8 862.6 577.2 864.9 580.5 867.1 583.6 869.9 586.3 873.2 588.8 876.3 590.8 879.6 593.5 880.9 597.3 881.2 602.1 877.7 603.3 874.8 604.1 873.3 608.2 871.3 612.1 867.7 614.9 864.4 616.1 860.5 616.0 856.7 616.9 853.6 617.4 849.2 617.7 847.9 621.2 846.6 624.1 845.6 627.8 846.0 631.4 846.1 634.1 846.4 637.9 843.7 642.0 840.5 645.4 838.9 648.4 836.5 651.9 832.5 654.4 830.0 656.3M883.6 553.4 885.7 556.0 887.6 559.4 889.4 562.7 891.2 566.6 892.0 570.0 891.5 574.3 891.4 578.6 892.1 582.8 892.9 586.7 895.7 588.8 899.8 589.6 903.4 590.2 907.5 591.2 911.2 592.5 914.2 595.1 916.8 597.8 918.5 600.6 920.9 597.0 923.5 595.7 926.8 599.3 928.6 602.3 931.9 604.3 935.4 604.7 939.3 606.6 937.5 608.3 933.7 611.6 930.7 615.3 929.7 619.1 931.7 621.9 933.1 625.7 934.5 628.8 937.2 630.7 940.1 627.6 940.9 624.5 943.5 621.8 947.6 620.6 951.9 620.8 954.5 621.8 955.5 624.8 953.4 628.2 952.2 631.6 955.8 631.5 959.7 631.9 963.8 632.1 967.3 632.2 971.5 633.4 972.8 630.1 972.7 626.3 973.0 622.5 976.8 621.1 981.4 618.8 985.3 617.3 988.4 616.8 991.9 615.8 995.6 612.8 997.7 608.5 999.0 604.3 1001.2 602.4 1003.3 599.4 1005.4 597.4 1006.5 600.8 1005.8 605.2 1008.7 606.8 1012.2 608.8 1015.4 607.9 1019.2 606.4 1022.5 606.3 1026.1 604.1 1030.2 601.9 1030.4 597.7 1031.2 593.8 1031.7 589.4 1032.6 585.9 1032.9 581.6 1036.5 580.2 1040.5 579.0 1043.6 579.8 1044.0 583.0 1042.6 586.1 1040.3 588.6 1037.0 592.0 1039.8 594.7 1042.8 593.9 1047.5 593.3 1051.9 592.4 1053.3 589.0 1056.0 585.1 1060.9 584.8 1064.7 585.7 1068.5 586.6 1071.2 588.5 1073.6 589.5 1077.8 587.2 1080.9 585.0 1083.5 582.9 1087.1 580.2 1090.8 578.5 1094.2 576.8 1096.8 576.1 1098.6 579.7 1100.1 583.5 1102.6 586.5 1103.9 589.3 1106.4 591.9 1110.5 594.6 1114.9 596.6 1118.6 596.0 1121.6 594.4 1125.2 593.8 1129.3 593.5 1133.6 593.2 1134.2 589.5 1136.3 588.7 1139.1 592.7 1141.9 594.7 1145.1 596.2 1149.4 593.4 1152.2 591.5 1155.6 589.7 1159.8 588.5 1157.7 585.4 1160.7 584.1 1165.0 582.7 1169.8 581.8 1174.5 582.8 1178.1 584.4 1180.6 586.3 1183.5 587.6 1188.3 587.6 1192.8 588.2 1193.6 592.2 1195.0 595.5 1198.8 597.9 1201.2 599.2 1204.0 600.9 1208.1 603.5 1211.5 605.7 1215.5 608.4 1218.3 611.4 1219.0 614.4 1217.9 617.2 1214.5 620.2 1211.8 623.2 1209.0 625.2 1206.0 627.6 1205.0 630.1 1209.3 630.4 1213.7 630.7 1217.6 631.2 1222.2 631.2 1226.3 631.4 1230.0 630.6 1235.0 629.6 1238.7 631.6 1242.2 633.2 1243.0 630.4 1242.4 626.5 1242.7 622.8 1241.4 619.3 1240.1 614.7 1239.8 611.1 1241.0 606.8 1242.0 603.1 1242.8 598.7 1242.2 594.8 1241.8 590.8 1242.1 587.2 1241.4 583.4M1023.9 520.9 1024.5 524.9 1025.5 528.6 1025.9 533.0 1025.1 535.9 1021.7 539.2 1024.0 543.2 1027.1 546.9 1027.1 551.0 1027.3 555.5 1025.8 559.2 1022.9 560.0 1019.8 562.9 1016.8 566.1 1013.3 567.6 1009.5 567.9 1010.1 571.4 1011.9 575.7 1014.7 579.3 1016.9 582.7 1017.6 585.8 1018.6 590.6 1021.1 594.5 1021.6 591.8 1021.5 587.7 1022.1 584.0 1025.1 582.1 1028.8 581.1 1032.5 579.1M1087.1 528.1 1085.6 532.1 1082.9 535.3 1081.9 538.9 1081.1 543.7 1081.3 547.5 1083.5 550.5 1085.6 555.0 1085.9 559.8 1084.7 563.4 1081.4 565.8 1081.3 568.8 1082.4 572.8 1084.3 576.3 1087.1 579.1M1128.9 540.6 1128.7 544.9 1128.5 548.1 1133.5 548.5 1138.8 549.5 1142.4 551.9 1145.7 552.1 1147.6 553.3 1147.6 557.5 1146.9 562.3 1146.5 565.7 1147.2 569.2 1147.5 573.9 1147.3 577.1 1151.3 577.5 1155.9 578.1 1159.0 580.5 1160.0 584.7 1160.0 588.8M1170.7 534.1 1172.8 538.4 1175.0 542.3 1175.9 544.9 1179.8 544.6 1184.0 544.6 1187.3 543.7 1190.0 546.9 1191.5 550.8 1193.0 553.3 1194.9 555.8 1196.5 559.6 1195.2 564.0 1194.6 568.0 1196.9 570.4 1199.7 573.0 1203.6 575.3 1207.5 577.3 1211.5 577.6 1215.4 578.1 1219.2 579.6 1222.3 580.8 1226.7 581.3 1230.6 581.6 1233.8 583.2 1238.1 582.8 1242.0 582.2 1244.8 581.4 1250.0 582.4M1187.9 543.8 1191.5 542.8 1194.4 541.2 1198.2 539.0 1200.9 535.9 1203.9 533.6 1207.7 534.3 1211.7 533.0 1216.4 533.0 1217.9 534.9 1217.1 538.8 1215.5 543.2 1212.9 545.4 1209.5 545.7 1205.0 545.9M1031.4 594.1 1031.1 598.2 1031.5 602.0 1032.8 606.0 1033.2 610.8 1034.4 614.5 1037.7 617.8 1038.7 621.5 1039.4 624.8 1039.3 629.0 1041.1 632.7 1043.7 635.5 1045.7 638.6 1047.5 642.0 1051.2 643.7 1055.5 645.7 1058.0 648.2 1061.3 650.1 1061.8 653.4 1061.4 657.3 1060.3 662.2 1059.8 665.3 1061.5 668.8 1062.2 674.3 1063.7 678.3 1066.3 680.7 1069.4 683.4 1066.1 685.0 1062.2 686.5 1059.0 688.9 1054.9 690.7 1053.9 692.4 1057.5 693.8 1060.0 697.2 1062.2 701.0 1066.9 702.1 1071.1 703.2 1073.2 703.4 1075.5 703.8 1080.3 705.2 1084.2 705.4 1088.2 704.6 1091.5 704.2 1096.4 704.3 1101.2 703.9 1105.6 705.2 1109.3 707.3 1112.7 708.2 1115.7 709.2 1117.9 713.6 1119.2 717.2 1121.5 719.9 1125.0 722.2 1128.9 724.7 1129.8 727.9 1131.5 732.1 1135.4 734.2 1138.5 736.4 1141.1 740.0 1143.9 743.7 1146.3 745.7 1149.6 747.5 1152.3 749.6 1154.1 753.8 1155.5 758.2 1157.9 761.1 1160.5 763.7 1164.1 765.8 1167.8 766.5 1171.2 766.8 1174.7 769.4 1178.9 771.9 1182.8 773.4 1186.7 775.0 1189.6 776.0 1193.7 775.9 1197.8 777.0 1201.4 777.7 1205.3 777.4 1209.4 777.6 1213.9 779.0 1218.4 780.5 1221.5 781.3 1224.2 782.4 1228.2 784.1 1232.4 783.6 1235.9 780.6 1239.2 778.1 1242.8 776.8 1246.5 775.0 1250.0 773.1M1134.3 594.1 1134.7 598.5 1136.9 602.6 1139.0 607.2 1136.7 609.9 1134.1 612.1 1131.4 614.3 1128.1 616.5 1124.2 618.7 1122.3 622.2 1123.1 626.2 1124.2 629.2 1123.9 632.7 1123.3 636.5 1123.6 640.0 1125.3 644.4 1127.4 647.7 1128.4 651.3 1127.4 655.6 1127.8 660.5 1127.4 664.2 1125.4 667.6 1122.9 671.1 1120.3 674.4 1119.7 677.8 1118.4 681.2 1116.8 685.4 1116.6 690.3 1116.0 694.8 1115.9 698.7 1116.4 701.7 1116.4 705.1 1116.1 709.9M924.3 663.8 927.1 666.5 930.1 669.8 932.4 673.3 935.7 675.5 937.5 677.8 940.6 681.0 944.2 683.3 947.4 685.6 950.9 688.1 954.3 688.8 956.9 689.4 961.1 690.8 965.9 692.6 969.6 692.5 973.5 692.8 978.1 693.7 981.0 695.0 983.2 696.6 987.3 697.9 992.0 698.9 995.7 700.5 999.3 700.6 1003.1 702.2 1006.8 704.7 1010.6 706.6 1012.6 710.1 1013.5 714.3 1015.6 717.7 1019.0 719.4 1018.1 723.0 1016.6 727.0 1019.2 729.0 1022.4 730.4 1025.5 732.4 1029.0 735.0 1031.6 738.0 1035.3 740.2 1039.1 743.4 1041.7 746.1 1044.1 747.2 1041.1 747.4 1036.4 746.5 1032.1 745.2 1028.9 744.2 1025.2 741.6 1022.1 739.1 1019.0 736.3 1017.0 733.5 1014.7 730.9 1011.2 728.0 1007.5 724.9 1005.1 721.8 1002.7 719.2 1000.7 717.3 997.8 713.7 995.7 710.2 997.0 706.9 1000.0 704.7 1003.6 702.4M924.3 663.8 920.2 664.9 916.1 665.2 911.7 665.2 908.0 665.6 904.1 667.3 899.3 668.6 895.4 670.0 891.5 670.9 890.7 675.0 891.0 678.3 888.5 679.8 885.4 683.0 882.3 685.8 879.3 688.3 876.9 691.2 874.6 693.5 870.3 695.1 865.6 696.9 861.8 697.8 859.3 699.6 858.1 702.3 855.8 707.1 853.5 711.1 851.7 714.9 849.1 717.3 847.3 721.0 846.0 723.8 846.8 727.8 848.9 731.6 850.2 735.3 851.5 739.7 849.7 742.6 849.2 746.3 846.1 749.8 843.1 752.4 840.0 754.9 836.4 757.2 832.9 759.3 830.0 761.3M892.1 671.3 889.3 669.3 886.4 667.8 882.9 669.7 878.7 667.3 875.2 665.1 871.0 662.4 867.4 660.4 865.3 658.1 861.9 655.3 860.8 651.0 860.3 646.1 857.4 642.2 854.2 639.9 853.8 642.5 854.0 647.1 852.6 651.0 850.0 653.9 847.6 656.3 844.6 657.3 841.6 655.2 838.4 653.7 833.7 653.1 830.0 656.3M864.3 697.0 865.9 700.1 867.9 703.2 868.6 707.3 867.8 712.8 866.5 716.0 864.4 718.5 862.1 722.5 861.1 726.7 860.9 730.6 858.4 733.4 854.3 734.5 851.4 734.5M909.3 802.0 910.0 798.0 910.9 794.3 914.6 792.7 918.1 791.2 922.2 791.2 925.3 789.4 927.6 786.6 930.2 783.1 933.6 780.9 937.5 779.2 941.1 778.0 946.0 776.9 950.0 775.1 952.8 773.5 956.4 773.9 960.9 773.1 964.8 771.1 967.9 768.9 971.4 766.7 974.5 764.1 976.9 761.7 979.8 759.8 983.3 757.1 987.9 754.3 990.3 751.8 994.4 750.7 998.3 751.8 1001.7 753.2 1005.7 751.6 1009.6 751.1 1013.6 751.9 1016.8 753.5 1020.2 755.3 1023.8 755.4 1027.6 755.8 1031.6 756.5 1033.8 760.5 1035.8 763.5 1039.3 764.9 1042.5 765.5 1047.1 764.7 1052.5 764.0 1056.7 762.9 1061.2 762.0 1064.6 761.2 1067.4 762.2 1071.6 762.2 1076.0 762.7 1080.1 764.2 1083.8 765.3 1087.5 767.3 1091.3 766.6 1094.9 764.2 1098.6 762.6 1102.4 764.3 1105.6 765.8 1108.8 767.4 1113.2 769.2 1117.2 767.3 1122.1 766.1 1126.2 766.1 1129.2 765.7 1134.0 764.1 1138.3 763.8 1141.7 763.7 1144.5 764.0 1148.8 762.6 1152.7 759.8 1155.7 759.1M1250.0 526.6 1253.8 525.4 1258.5 526.8 1263.3 527.9 1265.9 528.0 1266.9 525.1 1270.5 525.2 1275.6 524.9 1279.3 527.4 1282.7 529.1 1286.2 529.5 1290.3 530.4 1287.2 531.6 1285.1 533.8 1287.2 538.3 1289.7 542.0 1292.1 544.3 1294.5 546.3 1298.4 549.8 1302.1 552.7 1305.2 553.7 1308.6 555.1 1311.8 556.5 1315.7 557.9 1319.4 559.3 1323.3 560.9 1326.8 562.7 1329.7 565.2 1333.1 566.0 1337.1 566.4 1341.2 568.6 1344.6 569.5 1348.6 569.4 1353.4 569.8 1358.3 571.0 1361.3 572.9 1363.8 573.3 1368.5 574.9 1372.5 576.7 1375.5 576.1 1378.2 575.3 1382.9 574.3 1388.0 573.3 1392.9 573.4 1396.4 572.2 1399.5 571.5 1403.4 571.1 1406.6 568.9 1409.2 565.6 1410.0 561.9 1412.3 560.7 1416.8 560.2 1421.1 559.5 1424.8 559.0 1428.2 556.7 1431.5 554.4 1434.3 550.5 1437.7 548.1 1441.4 547.2 1445.2 545.9 1448.0 544.3 1451.3 543.4 1455.1 540.6 1459.2 539.2 1463.7 540.4 1467.3 541.5 1470.9 542.3 1474.0 542.6 1478.6 542.3 1483.6 542.2 1486.9 540.7 1490.7 540.6 1494.5 539.1 1498.1 538.3 1502.6 538.2 1500.0 537.2 1495.7 536.7 1491.8 535.4 1489.1 533.9 1485.0 532.2 1480.4 530.9 1476.7 531.3 1473.7 530.6 1469.3 529.0 1464.6 529.1 1461.1 529.1 1457.3 530.5 1452.4 532.2 1449.2 534.4 1448.7 533.6 1447.5 530.5 1447.4 526.2 1449.2 523.9 1452.1 524.8 1455.2 525.3 1459.6 525.3 1463.9 525.0 1468.5 525.5 1472.5 525.4 1475.9 524.5 1479.9 524.2 1483.6 524.3 1486.6 521.7 1489.4 521.8 1492.2 524.3 1495.7 523.8 1500.0 523.8 1505.2 523.7 1509.2 523.9 1512.3 524.8 1516.0 524.8 1518.9 524.0 1522.8 523.6 1527.1 521.6 1530.7 520.7 1534.6 520.9 1539.0 520.0 1543.1 518.3 1547.5 517.7 1550.3 518.7 1554.4 518.9 1559.6 518.9 1564.0 518.8 1568.0 519.1 1570.9 518.3 1574.7 517.2 1579.6 515.6 1583.4 514.5 1586.9 514.7 1591.8 516.1 1595.4 516.3 1599.3 516.6 1602.8 518.5 1606.6 518.2 1610.9 517.9 1614.8 518.9 1618.7 519.2 1622.5 519.6 1626.7 519.8 1630.5 519.1 1633.5 518.9 1638.2 518.0 1641.8 517.4 1646.6 517.4 1650.7 517.6 1655.0 516.8 1658.8 516.0 1661.6 518.9 1658.8 521.2 1654.9 523.8 1651.1 524.6 1647.7 524.8 1643.8 525.1 1639.7 525.0 1636.7 525.2 1631.8 526.6 1627.4 527.1 1623.3 528.6 1621.6 532.2 1618.6 535.0 1613.9 534.5 1610.2 534.5 1607.0 533.4 1602.8 531.6 1598.9 529.9 1595.2 529.2 1591.4 530.2 1587.4 531.5 1583.2 532.2 1578.8 532.9 1575.1 533.5 1571.5 534.5 1567.3 535.4 1564.1 537.7 1560.7 538.9M1573.6 534.1 1573.6 537.6 1574.4 541.1 1578.0 543.9 1581.4 546.3 1584.9 548.9 1587.8 551.2 1590.5 553.2 1589.0 557.2 1590.8 560.3 1593.8 563.5 1593.5 567.8 1593.5 572.0 1591.2 574.4 1587.4 576.0 1583.0 576.8 1578.9 577.2 1575.0 578.2 1570.8 578.7 1566.4 578.3 1564.5 576.4 1561.1 572.4 1558.3 569.1 1556.5 566.3 1553.4 565.1 1548.3 565.0 1544.9 562.3 1542.3 564.8 1539.9 564.3 1536.8 563.5 1532.7 561.5 1528.6 559.3 1525.0 559.0 1521.7 558.3 1518.9 554.5 1515.3 554.6 1510.4 556.7 1506.8 559.6 1504.1 562.4 1501.1 563.3 1496.6 563.6 1492.9 563.7 1489.9 567.2 1486.8 570.0 1483.6 570.6 1479.4 571.2 1475.6 571.9 1472.0 573.5 1468.1 575.6 1465.8 579.7 1466.2 583.7 1469.4 586.1 1473.2 588.0 1475.8 590.2 1477.8 593.7 1476.3 598.2 1475.0 602.8 1475.3 606.0 1477.4 609.8 1479.7 613.2 1482.3 616.3 1485.1 618.9 1484.6 621.6 1481.5 625.6 1478.0 628.4 1474.3 630.0 1473.6 633.9 1474.0 638.5 1474.4 642.4 1476.2 645.5 1477.6 650.0 1481.1 650.1 1486.6 649.8 1490.3 649.9 1494.0 652.3 1497.1 654.3 1501.0 656.2 1504.7 657.7 1507.4 660.0 1511.9 662.4 1515.0 664.9 1517.6 666.3 1521.2 667.9 1524.6 670.6 1526.2 673.3 1527.5 677.0 1527.8 681.0 1528.1 684.6 1529.4 688.4 1533.4 688.6 1537.0 688.0 1541.6 688.3 1545.3 687.4 1548.1 687.5 1552.3 689.0 1557.1 689.2 1561.1 689.3 1564.9 688.8 1561.2 689.2 1557.2 691.6 1555.8 694.7 1555.6 698.3 1555.7 701.8 1557.4 703.3 1560.2 706.3 1563.9 708.7 1568.9 709.3 1573.0 711.3 1575.8 712.8 1578.8 713.1 1583.0 714.0 1584.3 717.7 1586.1 720.3 1590.1 720.0 1593.4 717.3 1595.8 714.9 1599.6 713.2 1603.2 712.2 1606.7 709.8 1611.0 707.7 1614.2 706.4 1618.1 705.8 1621.9 704.3 1625.7 702.7 1628.0 700.2 1631.1 697.3 1634.0 693.7 1636.8 690.3 1640.2 688.1 1642.8 685.1 1643.8 681.6 1646.5 680.0 1645.8 678.1 1641.8 675.9 1640.9 672.2 1641.6 668.5 1641.8 664.6 1638.9 662.5 1635.3 661.2 1631.2 662.0 1628.0 661.1 1625.4 658.8 1622.6 655.4 1619.5 652.2 1618.2 649.1 1618.4 644.5 1618.8 640.6 1617.0 638.2 1614.7 634.9 1612.1 630.9 1610.7 627.2 1610.2 623.2 1610.2 619.6 1612.1 616.4 1613.8 611.4 1615.3 608.0 1617.8 605.7 1620.8 602.3 1619.1 598.1 1616.8 594.5 1615.2 592.2 1613.7 588.8 1613.0 584.3 1611.0 580.5 1609.0 577.6 1607.4 574.3 1606.1 570.3 1604.1 566.2 1601.1 562.9 1598.1 561.0 1593.9 560.0 1590.7 557.7M1436.4 493.4 1437.1 490.3 1440.4 487.4 1444.6 486.2 1448.8 486.0 1453.8 485.2 1455.2 487.7 1456.9 490.7 1460.8 492.7 1464.3 492.6 1467.9 491.3 1469.9 487.9 1470.8 485.0 1473.7 482.6 1477.4 479.8 1481.0 477.9 1483.6 479.4 1485.3 483.1 1486.5 487.3 1488.9 490.7 1489.1 493.3 1486.3 498.0 1483.2 500.2 1479.2 500.7 1474.9 501.9 1472.0 503.3 1467.9 504.9 1464.2 503.0 1462.2 502.0 1458.7 499.3 1454.5 497.1 1450.0 498.9 1446.9 498.9 1443.3 497.5 1438.9 496.0 1436.4 493.4M1345.8 498.8 1349.7 495.9 1352.3 496.0 1356.9 496.1 1361.1 497.1 1365.2 499.2 1364.4 501.7 1361.1 503.7 1357.4 503.8 1353.8 502.6 1349.0 500.5 1345.8 498.8M1250.0 579.1 1253.3 579.2 1257.2 577.4 1261.8 577.6 1265.9 580.0 1268.9 583.0 1272.3 583.7 1275.9 583.1 1279.9 584.2 1283.7 585.2 1286.8 585.3 1291.1 585.5 1295.8 584.8 1299.8 584.7 1303.9 584.4 1307.6 584.3 1312.8 584.1 1317.4 584.2 1320.9 584.7 1324.7 582.9 1328.5 581.4 1331.8 579.9 1334.1 577.4 1336.9 573.9 1341.2 571.6 1344.3 569.5M1320.7 584.5 1319.8 587.5 1318.0 591.7 1319.8 594.9 1321.9 598.6 1322.6 602.9 1322.2 606.6 1322.8 609.8 1326.4 613.1 1330.6 614.5 1334.4 615.8 1338.0 618.1 1340.6 616.7 1342.5 613.6 1344.9 613.8 1348.3 618.4 1350.7 620.3 1353.1 621.4 1356.6 621.9 1361.5 623.3 1365.5 625.9 1365.2 629.2 1362.3 631.2 1359.6 634.0 1356.9 636.8 1356.1 640.5 1357.7 644.1 1361.2 647.7 1363.8 650.2 1367.0 653.0 1370.0 653.5 1374.1 654.9 1377.5 657.0 1381.3 659.1 1384.4 661.1 1386.5 664.2 1388.4 666.9 1389.5 670.1 1392.3 672.0 1395.5 674.4 1399.0 677.5 1402.2 680.4 1401.3 684.4 1400.0 687.3 1399.6 691.7 1397.7 694.7 1392.9 694.2 1389.9 691.7 1386.1 689.8 1381.9 690.8 1378.4 690.4 1374.2 690.0 1371.1 690.5 1368.0 693.1 1367.7 697.9 1368.9 701.8 1368.3 706.4 1367.9 710.1 1368.2 714.3 1366.6 718.2 1364.1 721.2 1361.4 723.9 1358.1 727.8 1355.5 731.1 1354.6 734.2 1353.4 737.7 1351.2 740.6 1348.5 744.0 1346.5 747.6 1343.0 750.4 1340.4 754.0 1339.3 758.7 1338.3 762.1 1340.5 763.8 1344.3 765.5 1347.8 767.5 1351.2 768.3 1355.7 768.9 1360.3 769.4 1364.4 769.7 1368.1 769.7 1372.1 771.8 1376.0 773.2 1378.2 776.2 1381.1 778.7 1385.4 781.8 1388.0 784.3 1392.1 785.6 1395.4 786.8 1398.5 785.6 1403.1 784.3 1406.8 782.4 1408.6 780.3 1412.7 778.4 1417.2 777.1 1421.7 776.3 1425.0 775.6 1427.0 774.1 1425.0 771.1 1423.1 768.6 1421.5 766.2 1420.3 763.1 1421.6 758.6 1424.1 755.5 1428.7 755.3 1432.7 754.4 1436.4 755.7 1438.8 754.0 1441.2 751.5 1445.1 749.7 1450.0 750.9 1453.5 753.0 1456.7 755.7 1459.9 758.5 1462.6 759.0 1465.9 758.4 1469.6 759.5 1474.3 759.4 1478.1 758.2 1481.1 756.3 1483.6 752.7 1484.4 749.1 1487.1 745.8 1491.5 744.7 1496.0 744.5 1499.9 744.2 1503.1 743.3 1508.0 742.8 1512.8 742.7 1515.5 742.8 1519.3 741.7 1522.7 740.0 1526.5 738.4 1529.8 736.3 1532.9 734.1 1534.8 731.3 1539.3 730.2 1544.2 729.6 1548.3 728.5 1551.9 729.5 1555.9 729.4 1560.2 729.7 1562.9 730.4 1567.3 731.1 1571.7 730.2 1574.5 728.0 1577.9 725.3 1581.1 722.9 1584.3 720.6M1425.7 559.9 1426.8 563.9 1428.9 567.2 1431.9 569.5 1435.4 571.4 1438.6 573.5 1442.2 574.2 1446.0 574.0 1450.9 574.3 1454.4 574.0 1457.5 573.0 1461.0 572.2 1466.4 571.6M1250.0 776.3 1254.3 777.2 1256.7 778.5 1261.1 781.4 1263.9 784.1 1267.0 787.1 1271.1 788.8 1275.0 787.4 1279.0 786.3 1282.3 785.8 1286.2 785.2 1290.5 783.7 1295.0 783.4 1299.3 783.9 1303.0 783.5 1307.2 782.7 1310.0 779.9 1311.9 776.3 1313.6 773.2 1315.9 770.5 1319.2 768.6 1322.9 766.3 1327.2 764.7 1330.4 764.1 1335.3 763.7 1338.9 763.4M1250.0 789.1 1254.0 789.9 1258.4 791.0 1262.3 790.0 1265.0 787.0M1670.0 598.4 1673.8 599.7 1675.9 600.3 1680.1 600.0 1684.7 598.5 1685.6 594.5 1681.8 592.8 1677.7 591.2 1682.3 591.3 1685.9 593.7 1689.1 594.1 1691.3 597.3 1694.3 600.3 1697.7 602.1 1701.4 603.1 1705.2 605.2 1709.5 607.6 1712.8 609.6 1716.4 611.9 1720.0 612.7 1724.1 613.4 1727.6 615.4 1731.1 617.5 1735.2 619.3 1738.3 621.3 1741.9 623.6 1744.0 627.2 1746.4 630.3 1749.4 633.0 1752.5 635.4 1754.3 638.6 1755.5 642.3 1756.5 646.7 1758.8 650.8 1758.9 653.6 1758.5 657.7 1757.3 662.9 1756.4 666.6 1756.7 670.0 1756.9 674.2 1757.7 678.1 1760.6 680.5 1762.1 683.7 1764.5 686.5 1766.8 689.8 1765.0 693.3 1762.4 695.3 1764.8 698.4 1766.4 700.8 1764.7 705.1 1767.9 706.8 1771.7 707.8 1774.8 708.1 1779.3 709.3 1783.8 708.5 1786.2 705.7 1788.2 702.5 1791.8 701.9 1795.8 701.4 1799.4 701.0 1802.9 701.9 1807.2 702.6 1811.9 703.5 1815.8 703.9 1819.2 705.3 1822.3 707.4 1826.0 710.2 1828.3 712.4 1831.4 715.1 1834.3 718.0 1835.7 721.6 1839.0 725.2 1842.5 722.7M1842.5 724.9 1842.2 727.9 1842.3 732.8 1838.9 735.5 1834.8 736.5 1830.8 737.1 1827.5 739.1 1825.5 743.0 1824.1 746.8 1821.4 749.5 1818.9 751.7 1815.1 754.1 1811.5 755.2 1808.7 756.9 1805.8 758.5 1803.1 761.3 1800.3 764.2 1797.4 767.7 1795.6 770.9 1792.1 771.5 1788.0 771.5 1783.8 771.9 1779.7 773.2 1777.2 775.4 1774.9 778.1 1773.0 781.3 1770.2 785.4 1768.0 788.9 1766.5 792.1 1764.9 794.6 1763.0 797.6 1762.1 802.0M1670.0 716.3 1673.1 718.4 1674.4 721.6 1674.4 725.2 1672.6 728.2 1670.0 730.2M1670.0 739.9 1672.8 742.9 1674.1 747.2 1675.0 751.3 1677.1 754.6 1679.3 757.9 1681.2 761.4 1683.4 764.2 1686.1 766.3 1689.1 769.6 1693.0 771.8 1694.8 770.6 1695.7 765.7 1698.5 762.3 1702.0 761.5 1706.3 760.5 1710.0 759.7 1714.2 757.7 1717.7 761.0 1719.8 764.5 1722.5 766.9 1725.8 768.7 1728.9 771.5 1731.8 773.2 1736.2 774.6 1739.9 776.0 1742.7 773.4 1745.4 771.2 1748.1 768.8 1752.1 767.7 1756.6 766.6 1760.7 766.9 1764.3 766.6 1768.2 765.3 1772.3 765.3 1776.2 765.4 1780.2 765.6 1783.5 765.4 1787.8 764.8 1791.4 764.9 1795.3 765.1 1799.8 764.2 1802.9 761.3M722.9 802.0 724.9 804.6 727.6 808.3 731.6 809.3 735.6 809.5 738.8 809.4 742.2 809.4 747.6 810.4 751.3 811.3 754.7 811.2 759.7 811.8 763.7 812.0 766.1 810.6 769.4 809.3 772.7 808.7 776.1 806.0 778.6 802.0M748.6 811.6 749.2 814.6 749.5 819.1 750.6 823.4 752.4 826.5 753.1 828.8 755.0 832.1 757.2 837.2 759.9 840.3 762.7 841.2 766.8 842.0 771.4 843.4 774.7 842.6 778.3 841.0 781.9 840.0 786.1 838.9 789.3 839.8 792.6 841.4 796.9 841.6 801.3 841.0 805.6 840.7 810.7 841.9 814.4 842.9 818.0 842.6 822.1 842.7 826.2 842.5 830.0 842.3M772.1 842.7 775.7 843.8 779.1 844.0 782.9 843.8M782.9 802.0 785.0 803.8 788.3 805.7 793.2 806.2 798.1 806.5 802.7 806.7 805.4 806.4 809.2 806.2 813.8 805.8 818.7 805.8 822.0 805.9 825.9 806.4 830.0 805.2M830.0 808.4 833.9 810.6 838.0 810.3 841.6 811.6 844.7 813.4 849.6 815.2 854.1 815.6 858.5 815.8 861.7 815.5 865.9 816.1 869.6 817.3 872.6 818.5 875.9 818.6 880.7 816.8 884.8 815.6 888.9 813.9 891.7 811.6 894.5 809.6 898.5 807.8 902.3 806.1 906.1 804.2 909.3 802.0M926.4 802.0 929.2 803.7 933.2 804.5 937.7 804.4 941.4 802.0M830.0 842.7 834.5 843.5 838.7 843.9 836.2 845.4 836.3 846.8 840.9 846.2 844.2 845.7 847.9 845.5 852.1 845.0 855.8 843.3 858.8 841.1 862.4 840.3 866.1 838.1 869.9 836.4 873.0 836.4 877.4 836.3 881.8 836.6 886.0 836.9 890.1 838.0 893.9 840.2 896.8 841.1 899.9 843.1 904.2 844.7 908.5 847.0 911.3 848.7 915.0 848.5 918.9 846.9 922.0 845.4 926.6 845.3 930.7 846.4M990.7 922.0 994.5 920.8 998.2 920.2 1000.6 923.0 1005.1 923.9 1008.7 924.8 1011.4 922.9 1014.5 920.9 1017.4 916.6 1020.5 913.5 1024.2 913.5 1028.2 914.6 1032.1 915.3 1036.2 915.8 1040.6 916.0 1044.1 916.9 1047.3 917.4 1050.8 918.2 1053.8 920.0 1057.6 920.7 1062.3 920.1 1066.5 918.9 1070.3 917.7 1074.3 917.0 1078.6 915.7 1081.9 915.6 1085.0 916.6 1090.0 916.6 1094.3 916.9 1097.9 916.2 1101.6 913.7 1105.2 912.7 1109.4 912.5 1113.2 912.7 1117.4 913.5 1121.4 912.2 1124.7 910.2 1128.5 907.8 1132.6 905.3 1135.9 905.1 1140.1 906.0 1143.7 907.0 1147.1 905.8 1151.2 905.5 1155.7 907.5 1159.7 909.6 1161.8 911.6 1164.7 914.4 1168.8 917.0 1170.5 920.7 1171.2 925.3 1174.0 922.5 1178.0 919.0 1181.5 919.6 1186.1 920.7 1189.5 923.2 1192.3 925.6 1192.4 930.0 1192.6 934.0 1192.3 936.9 1191.1 940.8 1188.2 944.3 1185.6 946.5 1185.5 950.0 1185.8 954.1 1189.4 956.2 1191.6 955.8 1195.0 955.7 1199.0 957.8 1201.3 960.9 1203.6 963.9 1207.6 963.3 1211.3 961.9 1214.3 960.2 1218.5 958.4 1222.2 958.0 1226.4 957.4 1231.2 957.6 1234.7 956.8 1239.4 954.7 1243.8 953.9 1246.5 954.6 1250.0 956.3M1162.1 911.3 1163.4 915.1 1164.8 918.6 1165.7 922.6 1167.3 926.3 1169.1 929.6 1167.5 932.5 1165.1 935.7 1161.8 938.4 1159.1 941.5 1157.1 944.8 1154.9 947.8 1152.8 950.1 1151.4 953.9 1149.7 957.9 1150.0 961.9 1150.6 966.0 1150.8 969.8 1149.8 974.3 1147.9 978.5 1144.6 980.4 1141.0 982.2 1138.1 984.0 1136.2 986.5 1132.9 990.1 1130.6 993.4 1130.8 997.2 1131.8 1001.2 1132.9 1004.7 1133.6 1008.4 1133.7 1012.7 1133.5 1017.0 1133.0 1020.5 1132.3 1024.7 1132.6 1029.3 1132.8 1032.7 1131.7 1036.0 1130.3 1040.1 1130.2 1044.2 1129.7 1048.8 1130.0 1052.2 1130.7 1056.9 1129.1 1061.6 1130.1 1065.1 1131.9 1067.2 1134.3 1070.4 1135.2 1074.3 1134.8 1079.3 1135.3 1084.3 1135.7 1088.6 1137.2 1091.2 1139.4 1094.2 1140.7 1097.4 1141.7 1100.7 1143.2 1104.1 1144.7 1108.5 1146.0 1113.9 1146.0 1117.7 1146.6 1121.7 1148.1 1125.3 1149.3 1129.0 1151.4 1132.0M1168.6 913.4 1171.8 910.9 1175.1 909.5 1178.0 907.6 1180.3 904.4 1182.1 899.7 1182.7 896.5 1186.3 894.3 1190.8 892.3 1192.5 889.3 1192.4 885.6 1193.1 880.7 1194.5 877.8 1195.1 875.3 1196.6 872.3 1199.6 868.5 1202.5 864.0 1203.3 860.5 1203.7 857.1 1203.3 852.8 1202.2 848.4 1200.5 844.5 1200.8 840.9 1200.6 836.0 1203.3 832.3 1205.1 829.6 1206.9 827.9 1211.8 829.0 1217.2 829.0 1219.7 826.4 1222.0 823.0 1225.8 820.5 1229.0 819.2 1232.6 818.0 1236.6 817.0 1240.0 814.5 1243.4 812.4 1246.8 811.3 1250.0 808.4M1250.0 951.6 1252.8 952.1 1258.0 952.9 1260.8 950.2 1264.2 948.8 1266.2 952.1 1269.8 952.4 1274.2 953.1 1277.6 953.6 1282.0 954.6 1286.4 955.8 1289.7 955.0 1290.9 951.2 1293.3 948.7 1297.1 945.2 1298.3 942.4 1301.1 939.1 1304.2 936.3 1306.2 934.1 1307.5 930.1 1307.8 926.4 1310.1 924.0 1313.5 922.7 1317.7 922.0 1321.0 922.3 1325.1 921.1 1328.6 918.6 1331.3 920.6 1330.9 924.6 1329.8 929.2 1328.4 933.0 1328.7 937.2 1329.4 940.6 1330.0 944.7 1331.1 949.3 1332.9 953.3 1334.8 956.1 1336.0 958.8 1339.8 958.1 1343.4 956.9 1346.8 955.7 1351.0 955.7 1354.6 953.7 1358.6 951.7 1361.9 953.1 1362.6 956.8 1361.5 960.5 1361.9 965.2 1363.4 968.5 1365.2 971.8 1368.8 973.3 1368.1 976.8 1367.9 981.0 1370.3 983.9 1372.9 986.1 1369.6 989.1 1366.8 992.1 1363.0 994.1 1360.2 995.9 1361.8 998.9 1364.5 1001.5 1363.4 1005.8 1364.3 1009.4 1367.2 1011.3 1366.9 1015.7 1367.7 1019.4 1372.1 1020.6M1372.1 1020.6 1372.9 1024.5 1373.8 1027.9 1374.2 1031.4 1377.1 1035.1 1379.5 1038.3 1381.5 1041.0 1383.8 1044.7 1387.3 1047.3 1390.5 1048.5 1391.2 1052.7 1393.9 1055.0 1399.0 1055.1 1402.3 1053.0 1404.7 1050.6 1408.0 1051.3 1411.3 1052.6 1415.2 1050.1 1418.5 1048.1 1422.0 1047.8 1422.2 1049.5 1421.1 1053.0 1418.8 1055.6 1416.9 1058.5 1420.1 1062.0 1418.7 1065.1 1414.8 1068.1 1412.2 1070.3 1412.4 1074.1 1413.3 1077.6 1413.1 1080.4 1411.8 1084.0 1407.7 1083.9 1404.1 1083.1 1400.7 1083.7 1400.0 1086.8 1401.1 1090.8 1402.6 1094.6 1404.9 1098.2 1407.2 1101.1 1409.0 1104.2 1411.1 1106.8 1413.8 1110.4 1417.9 1114.3 1421.1 1116.9 1423.3 1119.1 1426.1 1121.2 1429.2 1123.3 1432.9 1126.8 1436.6 1129.2 1440.7 1129.8 1442.9 1132.0M1412.9 1084.9 1414.2 1089.1 1416.1 1092.6 1418.1 1095.8 1420.8 1098.0 1424.5 1097.8 1428.3 1097.5 1433.1 1097.2 1436.1 1097.7 1440.0 1097.1 1444.3 1098.8 1448.7 1099.6 1452.5 1098.9 1455.3 1099.3 1459.5 1101.2 1462.3 1103.0 1463.9 1106.2 1464.7 1110.5 1466.8 1114.3 1468.5 1116.9 1472.7 1116.7 1477.6 1115.8 1482.0 1114.3 1485.9 1113.7 1489.4 1113.4 1493.0 1112.5 1497.2 1111.1 1501.0 1110.4 1504.3 1112.0 1507.7 1114.5 1510.8 1116.5 1514.2 1119.6 1518.2 1120.1 1520.3 1117.7 1521.2 1113.8 1522.9 1112.1 1526.1 1111.0 1529.5 1112.2 1533.0 1113.7 1536.6 1115.7 1539.7 1118.7 1541.2 1123.3 1543.9 1125.5 1548.0 1126.3 1551.9 1127.3 1553.2 1132.0M1401.1 1084.9 1404.8 1089.0 1405.5 1093.3 1406.3 1096.5 1408.9 1099.7 1410.4 1103.0 1412.0 1105.9 1414.9 1109.5 1417.3 1112.4 1420.4 1115.5 1423.5 1118.4 1426.2 1120.7 1428.4 1124.1 1431.1 1126.8 1434.9 1128.9 1438.6 1132.0M1670.0 1088.1 1667.6 1089.8 1664.0 1092.1 1659.6 1093.6 1655.5 1094.7 1651.6 1094.8 1647.3 1095.8 1643.6 1097.8 1639.4 1098.7 1635.9 1099.7 1632.2 1099.2 1628.0 1097.7 1625.1 1096.7 1621.3 1095.2 1616.8 1094.2 1612.7 1093.2 1608.9 1093.9 1605.2 1095.9 1602.3 1097.0 1600.6 1100.7 1598.8 1104.3 1594.3 1104.1 1591.1 1105.1 1587.3 1105.2 1583.7 1104.5 1581.7 1108.0 1579.5 1112.8 1578.6 1116.5 1579.3 1119.9 1580.0 1123.6 1580.8 1128.1 1582.1 1132.0M1762.1 802.0 1765.1 805.3 1767.5 807.2 1769.9 810.5 1772.2 814.5 1771.0 817.8 1768.7 821.5 1770.1 825.3 1772.7 829.0 1776.3 831.1 1779.7 831.6 1782.9 829.8 1786.0 827.8 1790.0 828.5 1794.2 829.2 1797.3 832.5 1800.2 835.5 1799.5 839.0 1797.6 843.1 1794.6 846.0 1791.6 848.3 1788.7 849.7 1785.8 851.7 1781.9 854.1 1777.8 856.3 1774.0 857.3 1770.1 858.3 1766.9 860.2 1764.2 863.0 1762.0 864.8 1758.1 863.9 1755.0 863.7 1750.3 862.4 1745.7 861.2 1743.7 864.5 1740.5 866.4 1736.7 867.8 1732.2 868.6 1729.4 868.8 1725.7 869.1 1722.3 871.5 1719.5 875.0 1719.0 878.9 1717.4 883.3 1719.8 886.7 1721.6 888.9 1723.7 893.1 1723.8 897.3 1722.2 900.6 1723.3 904.5 1725.8 907.7 1726.1 912.2 1726.0 917.2 1722.7 919.2 1718.9 920.4 1715.7 922.4 1712.5 924.6 1709.9 927.2 1707.2 930.3 1704.6 934.1 1702.1 936.6M1760.0 1002.4 1764.5 1002.2 1768.8 1003.5 1772.4 1003.5 1775.2 1003.7 1779.6 1004.6 1784.0 1004.0 1788.7 1003.4 1792.2 1003.2 1794.7 1001.5 1798.2 999.2 1801.7 997.3 1806.4 996.2 1810.4 996.6 1813.5 998.0 1815.3 1001.0 1818.2 1004.9 1820.6 1008.6 1823.6 1012.3 1826.4 1014.7 1827.6 1017.8 1827.8 1020.7 1826.3 1025.6 1824.1 1030.5 1824.1 1034.5 1823.4 1037.7 1821.5 1041.3 1820.5 1045.5 1819.4 1049.2 1818.1 1053.0 1816.1 1056.7 1811.7 1058.3 1812.0 1060.9 1815.6 1063.0 1819.4 1064.0 1823.8 1064.4 1827.7 1065.0 1831.9 1065.5 1836.1 1065.6 1839.7 1067.0 1843.4 1069.4 1845.9 1071.6 1848.8 1073.8 1851.8 1075.6 1851.6 1079.5 1849.6 1082.2 1848.5 1085.2 1849.3 1089.6 1850.7 1092.6 1853.8 1094.1 1856.8 1097.9 1859.3 1102.2 1861.0 1107.0 1862.8 1110.2 1865.5 1112.0 1865.3 1115.4 1863.0 1118.8 1860.2 1122.1 1858.6 1124.9 1856.6 1128.9 1854.3 1132.0M1760.0 1002.4 1763.2 1005.1 1766.2 1008.2 1767.3 1011.3 1770.1 1014.9 1772.2 1017.6 1772.6 1021.0 1772.4 1024.8 1770.7 1028.9 1767.9 1031.4 1764.2 1035.0 1761.0 1038.0 1758.3 1040.4 1755.2 1042.3 1751.4 1043.9 1747.7 1045.7 1744.1 1047.9 1741.3 1051.3 1740.3 1054.7 1741.0 1058.3 1739.3 1060.3 1735.4 1062.0 1731.3 1062.5 1727.1 1063.5 1722.6 1064.5 1718.7 1064.4 1715.5 1063.4 1711.4 1061.7 1708.7 1061.9 1709.6 1066.4 1706.7 1069.7 1703.4 1071.8 1699.8 1070.8 1696.0 1070.6 1692.9 1073.3 1691.1 1078.1 1690.3 1081.5 1689.4 1084.5 1686.1 1085.3 1681.1 1086.8 1677.0 1086.6 1674.2 1086.1 1670.0 1085.9M1948.6 802.0 1951.4 805.2 1954.6 807.6 1956.4 810.6 1956.6 814.0 1957.7 817.6 1958.2 822.0 1957.9 825.7 1957.9 830.1 1957.6 834.6 1957.7 837.9 1956.1 841.4 1954.2 845.6 1953.1 848.7 1952.2 852.0 1950.5 856.1 1948.7 860.5 1947.7 864.5 1947.9 868.3 1948.5 872.2 1947.7 875.7 1947.2 879.2 1947.0 883.3 1946.6 886.7 1944.9 890.9 1943.4 894.1 1943.6 897.7 1945.6 901.9 1947.1 904.7 1948.4 908.2 1948.5 911.9 1948.6 915.9 1949.2 919.5 1948.4 923.5 1948.2 927.8 1948.0 931.4 1948.4 934.5 1949.3 939.8 1948.2 943.6 1948.2 948.1 1947.9 952.3 1947.3 955.7 1947.3 959.3 1947.5 963.5 1947.2 967.0 1946.1 970.0 1944.5 973.6 1941.4 978.1 1938.6 981.6 1935.4 984.1 1932.4 984.4 1929.0 985.1 1925.4 986.6 1921.4 988.6 1922.6 992.9 1923.3 996.9 1925.7 999.4 1924.9 1002.7 1925.4 1007.2 1925.2 1012.1 1924.4 1015.4 1924.0 1018.5 1923.5 1022.3 1923.3 1027.5 1925.2 1031.5 1926.9 1034.9 1929.0 1038.4 1930.7 1041.7 1934.9 1042.4 1939.7 1044.1 1941.1 1047.7 1942.7 1050.9 1944.5 1053.9 1946.2 1057.1 1949.4 1058.9 1953.6 1060.8 1955.6 1063.8 1957.4 1067.8 1958.6 1071.8 1958.8 1075.8 1957.4 1080.0 1956.9 1084.3 1956.6 1088.4 1958.7 1091.6 1958.4 1095.2 1956.6 1098.6 1954.3 1100.5 1951.0 1102.0 1950.0 1103.3 1953.7 1103.7 1957.4 1104.1 1960.4 1106.5 1963.3 1108.8 1964.9 1112.0 1966.6 1117.1 1967.8 1121.0 1968.6 1124.3 1967.5 1128.6 1966.8 1132.0M1164.3 1132.0 1165.7 1135.5 1167.2 1139.1 1169.5 1142.6 1171.4 1145.7 1174.2 1149.2 1176.9 1152.5 1178.0 1156.4 1178.4 1160.6 1178.1 1163.6 1175.7 1167.5 1173.0 1170.7 1170.7 1172.7M1131.1 1207.0 1131.9 1211.6 1133.4 1213.6 1136.1 1211.4 1139.7 1211.8 1143.4 1212.9 1148.2 1213.1 1152.4 1213.8 1153.7 1217.6 1155.1 1221.2 1157.2 1224.8 1161.2 1225.6 1164.5 1226.4 1167.1 1229.9 1170.2 1234.0 1172.9 1237.5 1175.7 1239.6 1177.8 1241.3 1180.7 1244.0 1183.5 1247.1 1186.0 1250.2 1189.2 1251.9 1189.2 1255.4 1188.5 1260.1 1189.3 1263.0 1191.1 1266.1 1193.7 1270.3 1195.4 1273.9 1196.0 1278.2 1194.4 1281.7 1193.3 1286.2 1195.5 1290.4 1197.4 1293.1 1198.7 1296.9 1200.2 1300.4 1202.6 1303.6 1204.3 1307.6 1206.8 1311.2 1207.8 1315.5 1208.4 1318.6 1209.6 1321.9 1211.4 1325.4 1212.6 1328.6 1213.9 1332.5 1215.2 1337.0 1216.1 1341.2 1218.2 1344.5 1217.6 1348.3 1215.7 1351.6M1442.9 1132.0 1445.7 1134.3 1448.9 1137.0 1451.1 1139.2 1452.8 1142.0 1454.4 1145.4 1453.9 1150.3 1451.8 1155.5 1449.9 1158.0 1453.5 1161.4 1456.3 1163.7 1459.7 1165.7 1461.0 1169.0 1459.9 1173.3 1459.3 1176.5 1457.4 1180.1 1453.3 1181.5 1452.1 1184.0 1452.4 1188.6 1455.5 1192.7 1458.6 1195.3 1461.5 1198.5 1464.0 1201.4 1466.3 1204.4 1467.3 1207.5 1469.5 1211.6 1471.2 1215.8 1471.5 1220.1 1472.3 1223.3 1472.8 1227.5 1470.5 1231.2 1467.9 1234.9 1465.8 1238.8 1469.2 1241.4 1473.3 1243.8 1477.7 1243.6 1481.8 1244.3 1484.4 1246.7 1488.0 1246.5 1492.2 1245.0 1495.8 1244.5 1499.5 1243.9 1503.3 1243.8 1507.7 1244.3 1511.8 1245.2 1515.2 1245.7 1519.3 1246.4 1523.4 1247.3 1527.3 1248.5 1528.5 1252.1 1529.1 1256.0 1528.5 1260.0 1528.7 1264.1 1526.9 1267.7 1525.0 1272.4 1521.1 1273.0 1517.6 1273.2 1513.8 1273.4 1510.1 1274.8 1507.3 1277.5 1502.5 1279.5 1498.0 1280.3 1494.4 1282.4 1491.2 1284.4 1487.4 1284.5 1483.3 1285.2 1479.4 1285.4 1475.7 1285.0 1471.2 1286.3 1467.5 1287.8 1466.3 1290.9 1466.4 1294.8 1467.3 1299.2 1466.8 1304.0 1465.5 1307.7 1464.6 1310.7 1464.8 1314.7 1462.5 1318.5 1459.1 1320.2 1455.8 1323.0 1452.8 1325.9 1449.1 1328.6 1445.2 1331.9 1443.1 1334.4 1442.5 1337.4 1440.0 1339.0 1437.2 1337.1 1438.1 1333.7 1438.9 1329.0 1437.6 1327.2 1433.6 1328.1 1431.0 1331.0 1427.1 1332.5 1423.3 1334.1 1422.3 1337.7 1420.9 1341.1 1417.2 1342.8 1414.2 1345.4 1411.6 1347.9 1408.6 1349.4 1404.6 1348.3 1400.9 1347.5 1397.8 1347.2 1395.1 1350.5 1391.9 1352.4 1388.7 1353.8 1386.0 1356.1 1382.4 1358.0 1377.1 1358.9 1372.9 1360.5 1370.6 1362.4 1369.2 1366.3 1368.3 1370.2 1368.7 1374.0 1367.7 1377.8 1363.2 1378.6 1358.8 1379.4 1354.3 1379.4 1352.4 1382.0 1349.9 1385.3 1348.5 1389.5 1347.6 1393.4 1344.8 1396.7 1341.7 1399.9 1337.4 1401.8 1333.6 1402.5 1333.0 1399.0 1332.2 1395.3 1333.6 1391.6 1335.9 1387.6 1337.6 1383.5 1337.4 1380.1 1335.1 1376.6 1332.4 1374.0 1330.1 1372.7 1326.2 1373.0 1321.4 1372.9 1317.8 1373.6 1313.5 1374.0 1310.2 1375.9 1306.3 1378.0 1303.1 1379.5 1300.8 1383.2 1298.3 1386.7 1294.5 1387.5 1290.1 1388.0 1286.9 1391.2 1284.5 1394.4 1281.1 1393.1 1277.5 1391.9 1273.1 1391.6 1269.5 1393.7 1265.6 1391.9 1262.0 1389.5 1258.9 1387.4 1255.8 1385.0 1251.8 1383.6 1250.0 1380.6M1854.3 1132.0 1850.3 1135.2 1848.0 1137.8 1844.8 1140.2 1842.0 1142.3 1839.0 1144.8 1838.2 1148.5 1840.8 1151.0 1841.5 1154.1 1840.9 1157.7 1841.0 1161.7 1841.0 1166.0 1838.0 1169.0 1835.1 1172.3 1833.7 1175.4 1832.5 1179.3 1831.1 1184.0 1830.5 1187.4 1830.6 1190.3 1829.5 1194.0 1828.5 1198.4 1827.1 1202.9 1827.0 1206.2 1827.5 1210.6 1827.6 1215.2 1826.1 1218.5 1826.3 1222.5 1827.4 1226.4 1828.8 1229.6 1830.1 1234.2 1832.4 1237.5 1833.9 1240.6 1835.7 1243.6 1837.9 1247.1 1839.4 1250.6 1840.7 1255.9 1843.2 1258.1 1847.5 1258.7 1847.7 1263.2 1848.7 1267.0 1848.6 1270.1 1848.7 1273.7 1848.4 1277.3 1848.4 1281.2 1849.2 1285.5 1847.7 1290.8 1847.4 1295.7 1850.3 1296.6 1853.7 1295.7 1856.1 1297.0 1856.0 1300.8 1856.2 1305.0 1860.5 1307.5 1864.0 1308.6 1867.5 1309.7 1869.7 1312.9 1872.4 1317.2 1875.3 1320.5 1878.0 1323.5 1880.6 1325.2 1883.1 1328.6 1886.8 1331.7 1889.5 1334.1 1891.3 1335.9 1894.4 1337.8 1898.4 1339.5 1903.1 1340.0 1907.3 1341.9 1910.7 1343.0 1915.3 1343.7 1919.3 1345.6 1922.6 1348.0 1924.9 1351.0 1927.1 1353.8M1966.8 1132.0 1969.1 1134.7 1971.9 1138.1 1973.8 1142.0 1975.7 1146.0 1976.6 1149.2 1976.8 1153.0 1976.7 1156.9 1976.4 1160.6 1976.8 1164.9 1980.1 1168.2 1980.7 1172.0 1979.4 1175.9 1977.4 1179.9 1974.1 1182.9 1977.3 1185.2 1981.0 1188.7 1984.1 1191.3 1986.4 1193.6 1987.4 1197.3 1986.0 1201.5 1985.8 1204.8 1986.3 1208.6 1987.0 1212.3 1986.0 1216.1 1982.6 1218.6 1980.7 1222.6 1979.5 1226.4 1978.4 1230.5 1978.5 1234.6 1977.2 1238.4 1975.7 1241.1 1973.2 1243.9 1971.6 1248.3 1969.9 1251.8 1973.3 1254.0 1972.3 1259.1 1970.5 1262.7 1968.6 1265.8 1966.1 1268.6 1966.1 1273.2 1966.1 1277.6 1965.3 1281.3 1963.6 1284.9 1962.5 1290.3 1962.7 1293.7 1961.2 1297.5 1959.3 1301.6 1957.2 1303.4 1955.4 1304.9 1952.2 1308.1 1949.1 1312.4 1947.7 1316.5 1946.8 1320.3 1943.8 1323.1 1940.0 1325.2 1936.4 1326.6 1934.0 1328.6 1932.8 1332.2 1930.2 1336.3 1930.9 1339.7 1932.2 1342.8 1931.9 1346.8 1931.4 1350.9 1927.1 1353.8" stroke="#000" stroke-width="1.35" fill="none" stroke-linejoin="round" shape-rendering="crispEdges"/>
</g>
<path d="M1502.5 80.5H1505.5V84.3L1504.2 86.6L1505.6 89.5V94.6L1504.6 96.7H1502.4V91.4L1503.6 87.6L1502.4 84.6Z" fill="none" stroke="#000" stroke-width="1.3" shape-rendering="crispEdges"/>
<rect x="410.0" y="142.0" width="1679.0" height="1317.0" fill="none" stroke="#000" stroke-width="2" shape-rendering="crispEdges"/>
<path d="M399.5 1459.5H410.0M399.5 1371.5H410.0M399.5 1283.5H410.0M399.5 1195.5H410.0M399.5 1108.5H410.0M399.5 1020.5H410.0M399.5 932.5H410.0M399.5 844.5H410.0M399.5 756.5H410.0M399.5 669.5H410.0M399.5 581.5H410.0M399.5 493.5H410.0M399.5 405.5H410.0M399.5 317.5H410.0M399.5 230.5H410.0M399.5 142.5H410.0M410.5 1459.0V1469.0M587.5 1459.0V1469.0M764.5 1459.0V1469.0M940.5 1459.0V1469.0M1117.5 1459.0V1469.0M1294.5 1459.0V1469.0M1470.5 1459.0V1469.0M1647.5 1459.0V1469.0M1824.5 1459.0V1469.0M2001.5 1459.0V1469.0" stroke="#000" stroke-width="1" fill="none" shape-rendering="crispEdges"/>
<text xml:space="preserve" transform="translate(0,1470.10) scale(1.0000,1)" font-size="28.81" stroke="#000" stroke-width="0.20"><tspan x="350.8 369.5">EQ</tspan></text>
<text xml:space="preserve" transform="translate(0,1382.30) scale(1.0000,1)" font-size="28.81" stroke="#000" stroke-width="0.20"><tspan x="350.2 370.0">1N</tspan></text>
<text xml:space="preserve" transform="translate(0,1294.50) scale(1.0000,1)" font-size="28.81" stroke="#000" stroke-width="0.20"><tspan x="350.2 370.0">2N</tspan></text>
<text xml:space="preserve" transform="translate(0,1206.70) scale(1.0000,1)" font-size="28.81" stroke="#000" stroke-width="0.20"><tspan x="350.2 370.0">3N</tspan></text>
<text xml:space="preserve" transform="translate(0,1118.90) scale(1.0000,1)" font-size="28.81" stroke="#000" stroke-width="0.20"><tspan x="350.2 370.0">4N</tspan></text>
<text xml:space="preserve" transform="translate(0,1031.10) scale(1.0000,1)" font-size="28.81" stroke="#000" stroke-width="0.20"><tspan x="350.2 370.0">5N</tspan></text>
<text xml:space="preserve" transform="translate(0,943.30) scale(1.0000,1)" font-size="28.81" stroke="#000" stroke-width="0.20"><tspan x="350.2 370.0">6N</tspan></text>
<text xml:space="preserve" transform="translate(0,855.50) scale(1.0000,1)" font-size="28.81" stroke="#000" stroke-width="0.20"><tspan x="350.2 370.0">7N</tspan></text>
<text xml:space="preserve" transform="translate(0,767.70) scale(1.0000,1)" font-size="28.81" stroke="#000" stroke-width="0.20"><tspan x="350.2 370.0">8N</tspan></text>
<text xml:space="preserve" transform="translate(0,679.90) scale(1.0000,1)" font-size="28.81" stroke="#000" stroke-width="0.20"><tspan x="350.2 370.0">9N</tspan></text>
<text xml:space="preserve" transform="translate(0,592.10) scale(1.0000,1)" font-size="28.81" stroke="#000" stroke-width="0.20"><tspan x="329.8 350.2 370.0">10N</tspan></text>
<text xml:space="preserve" transform="translate(0,504.30) scale(1.0000,1)" font-size="28.81" stroke="#000" stroke-width="0.20"><tspan x="329.8 350.2 370.0">11N</tspan></text>
<text xml:space="preserve" transform="translate(0,416.50) scale(1.0000,1)" font-size="28.81" stroke="#000" stroke-width="0.20"><tspan x="329.8 350.2 370.0">12N</tspan></text>
<text xml:space="preserve" transform="translate(0,328.70) scale(1.0000,1)" font-size="28.81" stroke="#000" stroke-width="0.20"><tspan x="329.8 350.2 370.0">13N</tspan></text>
<text xml:space="preserve" transform="translate(0,240.90) scale(1.0000,1)" font-size="28.81" stroke="#000" stroke-width="0.20"><tspan x="329.8 350.2 370.0">14N</tspan></text>
<text xml:space="preserve" transform="translate(0,153.10) scale(1.0000,1)" font-size="28.81" stroke="#000" stroke-width="0.20"><tspan x="329.8 350.2 370.0">15N</tspan></text>
<text xml:space="preserve" transform="translate(0,1495.00) scale(1.0000,1)" font-size="27.43" stroke="#000" stroke-width="0.20"><tspan x="380.1 400.0 417.0">76W</tspan></text>
<text xml:space="preserve" transform="translate(0,1495.00) scale(1.0000,1)" font-size="27.43" stroke="#000" stroke-width="0.20"><tspan x="556.8 576.7 593.7">74W</tspan></text>
<text xml:space="preserve" transform="translate(0,1495.00) scale(1.0000,1)" font-size="27.43" stroke="#000" stroke-width="0.20"><tspan x="733.5 753.4 770.4">72W</tspan></text>
<text xml:space="preserve" transform="translate(0,1495.00) scale(1.0000,1)" font-size="27.43" stroke="#000" stroke-width="0.20"><tspan x="910.2 930.1 947.1">70W</tspan></text>
<text xml:space="preserve" transform="translate(0,1495.00) scale(1.0000,1)" font-size="27.43" stroke="#000" stroke-width="0.20"><tspan x="1086.9 1106.8 1123.8">68W</tspan></text>
<text xml:space="preserve" transform="translate(0,1495.00) scale(1.0000,1)" font-size="27.43" stroke="#000" stroke-width="0.20"><tspan x="1263.6 1283.5 1300.5">66W</tspan></text>
<text xml:space="preserve" transform="translate(0,1495.00) scale(1.0000,1)" font-size="27.43" stroke="#000" stroke-width="0.20"><tspan x="1440.3 1460.2 1477.2">64W</tspan></text>
<text xml:space="preserve" transform="translate(0,1495.00) scale(1.0000,1)" font-size="27.43" stroke="#000" stroke-width="0.20"><tspan x="1617.0 1636.9 1653.9">62W</tspan></text>
<text xml:space="preserve" transform="translate(0,1495.00) scale(1.0000,1)" font-size="27.43" stroke="#000" stroke-width="0.20"><tspan x="1793.7 1813.6 1830.6">60W</tspan></text>
<text xml:space="preserve" transform="translate(0,1495.00) scale(1.0000,1)" font-size="27.43" stroke="#000" stroke-width="0.20"><tspan x="1970.4 1990.3 2007.3">58W</tspan></text>
<path d="M2272.3 251.8L2294.9 160.0L2317.4 251.8Z" fill="#0000ff" stroke="#000" stroke-width="1" stroke-linejoin="miter"/>
<rect x="2272.3" y="251.80" width="45.1" height="91.47" fill="#0064ff" stroke="#000" stroke-width="1" shape-rendering="crispEdges"/>
<rect x="2272.3" y="343.27" width="45.1" height="91.47" fill="#0078ff" stroke="#000" stroke-width="1" shape-rendering="crispEdges"/>
<rect x="2272.3" y="434.74" width="45.1" height="91.47" fill="#008cff" stroke="#000" stroke-width="1" shape-rendering="crispEdges"/>
<rect x="2272.3" y="526.21" width="45.1" height="91.47" fill="#00a0ff" stroke="#000" stroke-width="1" shape-rendering="crispEdges"/>
<rect x="2272.3" y="617.68" width="45.1" height="91.47" fill="#1eb4ff" stroke="#000" stroke-width="1" shape-rendering="crispEdges"/>
<rect x="2272.3" y="709.15" width="45.1" height="91.47" fill="#50c8ff" stroke="#000" stroke-width="1" shape-rendering="crispEdges"/>
<rect x="2272.3" y="800.62" width="45.1" height="91.47" fill="#ffffff" stroke="#000" stroke-width="1" shape-rendering="crispEdges"/>
<rect x="2272.3" y="892.09" width="45.1" height="91.47" fill="#ffff96" stroke="#000" stroke-width="1" shape-rendering="crispEdges"/>
<rect x="2272.3" y="983.56" width="45.1" height="91.47" fill="#ffc850" stroke="#000" stroke-width="1" shape-rendering="crispEdges"/>
<rect x="2272.3" y="1075.03" width="45.1" height="91.47" fill="#ffb41e" stroke="#000" stroke-width="1" shape-rendering="crispEdges"/>
<rect x="2272.3" y="1166.50" width="45.1" height="91.47" fill="#ffa000" stroke="#000" stroke-width="1" shape-rendering="crispEdges"/>
<rect x="2272.3" y="1257.97" width="45.1" height="91.47" fill="#ff8c00" stroke="#000" stroke-width="1" shape-rendering="crispEdges"/>
<path d="M2272.3 1349.4L2294.9 1441.0L2317.4 1349.4Z" fill="#ff7800" stroke="#000" stroke-width="1" stroke-linejoin="miter"/>
<text xml:space="preserve" transform="translate(0,264.80) scale(1.1700,1)" font-size="33.88" stroke="#000" stroke-width="0.10"><tspan x="1992.0 2015.5 2038.9">100</tspan></text>
<text xml:space="preserve" transform="translate(0,356.27) scale(1.1700,1)" font-size="33.88" stroke="#000" stroke-width="0.10"><tspan x="1992.0 2015.5">80</tspan></text>
<text xml:space="preserve" transform="translate(0,447.74) scale(1.1700,1)" font-size="33.88" stroke="#000" stroke-width="0.10"><tspan x="1992.0 2015.5">60</tspan></text>
<text xml:space="preserve" transform="translate(0,539.21) scale(1.1700,1)" font-size="33.88" stroke="#000" stroke-width="0.10"><tspan x="1992.0 2015.5">40</tspan></text>
<text xml:space="preserve" transform="translate(0,630.68) scale(1.1700,1)" font-size="33.88" stroke="#000" stroke-width="0.10"><tspan x="1992.0 2015.5">20</tspan></text>
<text xml:space="preserve" transform="translate(0,722.15) scale(1.1700,1)" font-size="33.88" stroke="#000" stroke-width="0.10"><tspan x="1992.0 2015.5">10</tspan></text>
<text xml:space="preserve" transform="translate(0,813.62) scale(1.1700,1)" font-size="33.88" stroke="#000" stroke-width="0.10"><tspan x="1992.0">0</tspan></text>
<text xml:space="preserve" transform="translate(0,905.09) scale(1.1700,1)" font-size="33.88" stroke="#000" stroke-width="0.10"><tspan x="1991.8" textLength="28.9" lengthAdjust="spacingAndGlyphs">-</tspan><tspan x="2022.5 2046.0">10</tspan></text>
<text xml:space="preserve" transform="translate(0,996.56) scale(1.1700,1)" font-size="33.88" stroke="#000" stroke-width="0.10"><tspan x="1991.8" textLength="28.9" lengthAdjust="spacingAndGlyphs">-</tspan><tspan x="2022.5 2046.0">20</tspan></text>
<text xml:space="preserve" transform="translate(0,1088.03) scale(1.1700,1)" font-size="33.88" stroke="#000" stroke-width="0.10"><tspan x="1991.8" textLength="28.9" lengthAdjust="spacingAndGlyphs">-</tspan><tspan x="2022.5 2046.0">40</tspan></text>
<text xml:space="preserve" transform="translate(0,1179.50) scale(1.1700,1)" font-size="33.88" stroke="#000" stroke-width="0.10"><tspan x="1991.8" textLength="28.9" lengthAdjust="spacingAndGlyphs">-</tspan><tspan x="2022.5 2046.0">60</tspan></text>
<text xml:space="preserve" transform="translate(0,1270.97) scale(1.1700,1)" font-size="33.88" stroke="#000" stroke-width="0.10"><tspan x="1991.8" textLength="28.9" lengthAdjust="spacingAndGlyphs">-</tspan><tspan x="2022.5 2046.0">80</tspan></text>
<text xml:space="preserve" transform="translate(0,1362.44) scale(1.1700,1)" font-size="33.88" stroke="#000" stroke-width="0.10"><tspan x="1991.8" textLength="28.9" lengthAdjust="spacingAndGlyphs">-</tspan><tspan x="2022.5 2046.0 2069.4">100</tspan></text>
<text xml:space="preserve" transform="translate(0,1591.90) scale(0.9546,1)" font-size="25.65" stroke="#000" stroke-width="0.10"><tspan x="11.2 32.3 43.8 61.6 83.2 101.5 114.4 127.4 147.1 168.9 184.2">GrADS: COLA</tspan><tspan x="206.5" dy="3.03" font-size="34.58" stroke="none">/</tspan><tspan x="223.1 230.9 252.1 271.0" dy="-3.03">IGES</tspan></text>
</svg>
</body></html>
